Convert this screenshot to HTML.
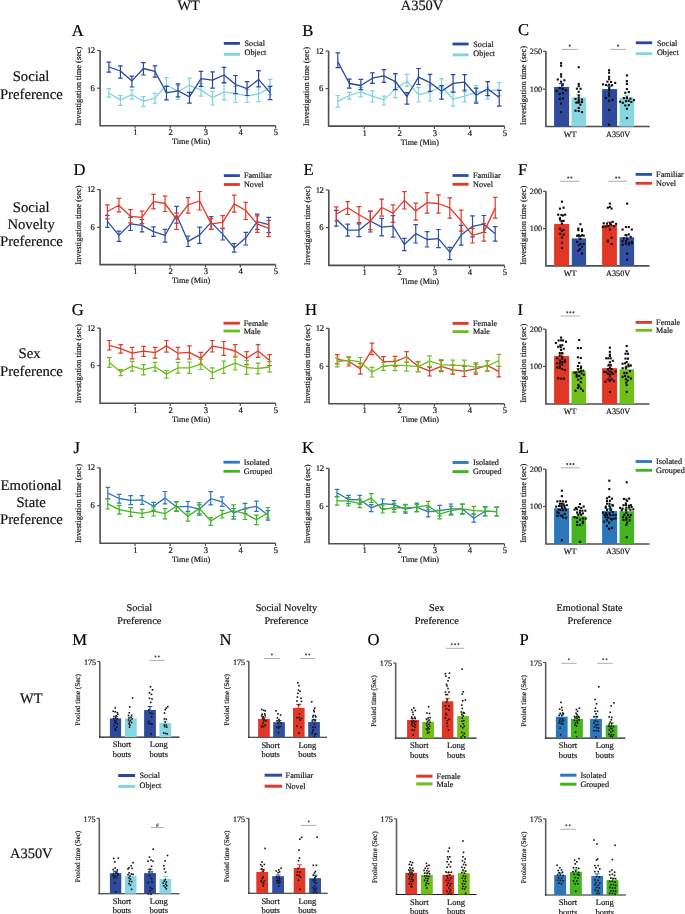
<!DOCTYPE html>
<html><head><meta charset="utf-8"><style>html,body{margin:0;padding:0;background:#fff;}body{width:685px;height:914px;overflow:hidden;}svg{display:block;will-change:transform;text-rendering:geometricPrecision;}text{stroke:currentColor;stroke-width:0.18px;}</style></head><body>
<svg width="685" height="914" viewBox="0 0 685 914" style='font-family:"Liberation Serif",serif'>
<rect width="685" height="914" fill="#fff"/>
<text x="188.6" y="10" font-size="14.4" text-anchor="middle" fill="#111" color="#111">WT</text>
<text x="422" y="10.2" font-size="14.4" text-anchor="middle" fill="#111" color="#111">A350V</text>
<text x="31" y="81.4" font-size="14.7" text-anchor="middle" fill="#111" color="#111">Social</text>
<text x="31.3" y="98.5" font-size="14.7" text-anchor="middle" fill="#111" color="#111">Preference</text>
<text x="31.2" y="211.6" font-size="14.7" text-anchor="middle" fill="#111" color="#111">Social</text>
<text x="31.1" y="229" font-size="14.7" text-anchor="middle" fill="#111" color="#111">Novelty</text>
<text x="31.4" y="246.4" font-size="14.7" text-anchor="middle" fill="#111" color="#111">Preference</text>
<text x="29.6" y="358.3" font-size="14.7" text-anchor="middle" fill="#111" color="#111">Sex</text>
<text x="31.4" y="375.5" font-size="14.7" text-anchor="middle" fill="#111" color="#111">Preference</text>
<text x="31.1" y="489.5" font-size="14.7" text-anchor="middle" fill="#111" color="#111">Emotional</text>
<text x="31.1" y="506.6" font-size="14.7" text-anchor="middle" fill="#111" color="#111">State</text>
<text x="31.4" y="524" font-size="14.7" text-anchor="middle" fill="#111" color="#111">Preference</text>
<path d="M100.1 50.5 V125.8 H275.6" fill="none" stroke="#4e4e4e" stroke-width="1.6"/>
<line x1="97.1" y1="50.5" x2="100.1" y2="50.5" stroke="#4e4e4e" stroke-width="1.2"/>
<line x1="97.1" y1="88.2" x2="100.1" y2="88.2" stroke="#4e4e4e" stroke-width="1.2"/>
<line x1="135.1" y1="125.8" x2="135.1" y2="128.6" stroke="#4e4e4e" stroke-width="1.2"/>
<line x1="170.2" y1="125.8" x2="170.2" y2="128.6" stroke="#4e4e4e" stroke-width="1.2"/>
<line x1="205.5" y1="125.8" x2="205.5" y2="128.6" stroke="#4e4e4e" stroke-width="1.2"/>
<line x1="240.3" y1="125.8" x2="240.3" y2="128.6" stroke="#4e4e4e" stroke-width="1.2"/>
<line x1="275.6" y1="125.8" x2="275.6" y2="128.6" stroke="#4e4e4e" stroke-width="1.2"/>
<text x="94.7" y="53" font-size="8.7" text-anchor="end" fill="#151515" color="#151515" letter-spacing="-0.5">12</text>
<text x="94.9" y="90.7" font-size="8.7" text-anchor="end" fill="#151515" color="#151515">6</text>
<text x="135.5" y="135.3" font-size="8.6" text-anchor="middle" fill="#151515" color="#151515">1</text>
<text x="170.6" y="135.3" font-size="8.6" text-anchor="middle" fill="#151515" color="#151515">2</text>
<text x="205.9" y="135.3" font-size="8.6" text-anchor="middle" fill="#151515" color="#151515">3</text>
<text x="240.7" y="135.3" font-size="8.6" text-anchor="middle" fill="#151515" color="#151515">4</text>
<text x="276" y="135.3" font-size="8.6" text-anchor="middle" fill="#151515" color="#151515">5</text>
<text x="191.15" y="144.3" font-size="8.2" text-anchor="middle" fill="#151515" color="#151515">Time (Min)</text>
<text x="81" y="86.15" font-size="8.4" text-anchor="middle" fill="#151515" color="#151515" transform="rotate(-90 81 86.15)">Investigation time (sec)</text>
<text x="71.8" y="35.7" font-size="16.6" text-anchor="start" fill="#000" color="#000">A</text>
<path d="M108.9 93.3 L120.41 99.9 L131.93 94.7 L143.44 101.3 L154.96 98.1 L166.47 85 L177.99 91.5 L189.5 85.3 L201.01 89.9 L212.53 97.7 L224.04 91.8 L235.56 93.7 L247.07 95.8 L258.59 94 L270.1 87.4" fill="none" stroke="#80d3df" stroke-width="1.3" stroke-linejoin="round"/>
<path d="M108.9 88.6V97.2M106.6 88.6H111.2M106.6 97.2H111.2M120.41 95.5V105.4M118.11 95.5H122.71M118.11 105.4H122.71M131.93 89.9V99.1M129.63 89.9H134.23M129.63 99.1H134.23M143.44 96.6V106.4M141.14 96.6H145.74M141.14 106.4H145.74M154.96 93.3V103.1M152.66 93.3H157.26M152.66 103.1H157.26M166.47 77.7V91.8M164.17 77.7H168.77M164.17 91.8H168.77M177.99 85.5V99.5M175.69 85.5H180.29M175.69 99.5H180.29M189.5 78.2V92.3M187.2 78.2H191.8M187.2 92.3H191.8M201.01 83.5V96.2M198.71 83.5H203.31M198.71 96.2H203.31M212.53 91.4V105M210.23 91.4H214.83M210.23 105H214.83M224.04 83.5V99.9M221.74 83.5H226.34M221.74 99.9H226.34M235.56 86.4V102.5M233.26 86.4H237.86M233.26 102.5H237.86M247.07 89.6V102.5M244.77 89.6H249.37M244.77 102.5H249.37M258.59 86.4V101.6M256.29 86.4H260.89M256.29 101.6H260.89M270.1 79.4V94.7M267.8 79.4H272.4M267.8 94.7H272.4" fill="none" stroke="#80d3df" stroke-width="1.2"/>
<path d="M108.9 67 L120.41 71 L131.93 80.9 L143.44 68.5 L154.96 71.4 L166.47 92.8 L177.99 90.8 L189.5 96.9 L201.01 78.7 L212.53 80.1 L224.04 75 L235.56 84.5 L247.07 88.6 L258.59 79.4 L270.1 92.6" fill="none" stroke="#2a46a0" stroke-width="1.3" stroke-linejoin="round"/>
<path d="M108.9 62.2V72.1M106.6 62.2H111.2M106.6 72.1H111.2M120.41 65.8V78.2M118.11 65.8H122.71M118.11 78.2H122.71M131.93 76.2V87M129.63 76.2H134.23M129.63 87H134.23M143.44 62.6V75M141.14 62.6H145.74M141.14 75H145.74M154.96 65.8V77.2M152.66 65.8H157.26M152.66 77.2H157.26M166.47 86.4V99.9M164.17 86.4H168.77M164.17 99.9H168.77M177.99 83.8V96.9M175.69 83.8H180.29M175.69 96.9H180.29M189.5 92.3V103.2M187.2 92.3H191.8M187.2 103.2H191.8M201.01 71.4V86.4M198.71 71.4H203.31M198.71 86.4H203.31M212.53 71.8V88.2M210.23 71.8H214.83M210.23 88.2H214.83M224.04 67.4V82.6M221.74 67.4H226.34M221.74 82.6H226.34M235.56 75.5V93.7M233.26 75.5H237.86M233.26 93.7H237.86M247.07 81.6V95.5M244.77 81.6H249.37M244.77 95.5H249.37M258.59 70.7V87M256.29 70.7H260.89M256.29 87H260.89M270.1 86.4V99.6M267.8 86.4H272.4M267.8 99.6H272.4" fill="none" stroke="#2a46a0" stroke-width="1.2"/>
<rect x="223.8" y="42" width="16.1" height="2.8" fill="#2a46a0"/>
<rect x="223.8" y="52.9" width="16.1" height="2.8" fill="#80d3df"/>
<text x="244.5" y="46" font-size="8.2" text-anchor="start" fill="#151515" color="#151515">Social</text>
<text x="244.5" y="55.3" font-size="8.2" text-anchor="start" fill="#151515" color="#151515">Object</text>
<path d="M328.6 51 V126.1 H504.5" fill="none" stroke="#4e4e4e" stroke-width="1.6"/>
<line x1="325.6" y1="51" x2="328.6" y2="51" stroke="#4e4e4e" stroke-width="1.2"/>
<line x1="325.6" y1="88.6" x2="328.6" y2="88.6" stroke="#4e4e4e" stroke-width="1.2"/>
<line x1="364.3" y1="126.1" x2="364.3" y2="128.9" stroke="#4e4e4e" stroke-width="1.2"/>
<line x1="399.2" y1="126.1" x2="399.2" y2="128.9" stroke="#4e4e4e" stroke-width="1.2"/>
<line x1="434.4" y1="126.1" x2="434.4" y2="128.9" stroke="#4e4e4e" stroke-width="1.2"/>
<line x1="469.5" y1="126.1" x2="469.5" y2="128.9" stroke="#4e4e4e" stroke-width="1.2"/>
<line x1="504.5" y1="126.1" x2="504.5" y2="128.9" stroke="#4e4e4e" stroke-width="1.2"/>
<text x="323.2" y="53.5" font-size="8.7" text-anchor="end" fill="#151515" color="#151515" letter-spacing="-0.5">12</text>
<text x="323.4" y="91.1" font-size="8.7" text-anchor="end" fill="#151515" color="#151515">6</text>
<text x="364.7" y="135.6" font-size="8.6" text-anchor="middle" fill="#151515" color="#151515">1</text>
<text x="399.6" y="135.6" font-size="8.6" text-anchor="middle" fill="#151515" color="#151515">2</text>
<text x="434.8" y="135.6" font-size="8.6" text-anchor="middle" fill="#151515" color="#151515">3</text>
<text x="469.9" y="135.6" font-size="8.6" text-anchor="middle" fill="#151515" color="#151515">4</text>
<text x="504.9" y="135.6" font-size="8.6" text-anchor="middle" fill="#151515" color="#151515">5</text>
<text x="419.85" y="144.6" font-size="8.2" text-anchor="middle" fill="#151515" color="#151515">Time (Min)</text>
<text x="309.5" y="86.55" font-size="8.4" text-anchor="middle" fill="#151515" color="#151515" transform="rotate(-90 309.5 86.55)">Investigation time (sec)</text>
<text x="302.3" y="35.8" font-size="16.6" text-anchor="start" fill="#000" color="#000">B</text>
<path d="M337.8 101.3 L349.33 95.5 L360.86 91.8 L372.39 96.2 L383.91 99.9 L395.44 88.9 L406.97 81.2 L418.5 94.7 L430.03 92.2 L441.56 86 L453.09 99.2 L464.61 96.2 L476.14 92.2 L487.67 91 L499.2 89.6" fill="none" stroke="#80d3df" stroke-width="1.3" stroke-linejoin="round"/>
<path d="M337.8 95.5V107.2M335.5 95.5H340.1M335.5 107.2H340.1M349.33 92.3V99.1M347.03 92.3H351.63M347.03 99.1H351.63M360.86 87.4V96.9M358.56 87.4H363.16M358.56 96.9H363.16M372.39 90.8V102M370.09 90.8H374.69M370.09 102H374.69M383.91 96.2V105M381.61 96.2H386.21M381.61 105H386.21M395.44 82.3V97.7M393.14 82.3H397.74M393.14 97.7H397.74M406.97 74.3V86.4M404.67 74.3H409.27M404.67 86.4H409.27M418.5 87.4V102M416.2 87.4H420.8M416.2 102H420.8M430.03 85.2V101M427.73 85.2H432.33M427.73 101H432.33M441.56 78.7V93M439.26 78.7H443.86M439.26 93H443.86M453.09 92.2V106.2M450.79 92.2H455.39M450.79 106.2H455.39M464.61 89.6V101.8M462.31 89.6H466.91M462.31 101.8H466.91M476.14 85.7V101.5M473.84 85.7H478.44M473.84 101.5H478.44M487.67 87V99.2M485.37 87H489.97M485.37 99.2H489.97M499.2 82.6V95.7M496.9 82.6H501.5M496.9 95.7H501.5" fill="none" stroke="#80d3df" stroke-width="1.2"/>
<path d="M337.8 61.6 L349.33 83.5 L360.86 85.5 L372.39 78.2 L383.91 75.8 L395.44 81.6 L406.97 96.5 L418.5 77.2 L430.03 82.6 L441.56 91.3 L453.09 83.4 L464.61 82.2 L476.14 95.2 L487.67 88.7 L499.2 97.4" fill="none" stroke="#2a46a0" stroke-width="1.3" stroke-linejoin="round"/>
<path d="M337.8 52.8V67.7M335.5 52.8H340.1M335.5 67.7H340.1M349.33 79.1V88.2M347.03 79.1H351.63M347.03 88.2H351.63M360.86 79.4V89.6M358.56 79.4H363.16M358.56 89.6H363.16M372.39 72.8V83.4M370.09 72.8H374.69M370.09 83.4H374.69M383.91 69.6V82.3M381.61 69.6H386.21M381.61 82.3H386.21M395.44 73.6V89.6M393.14 73.6H397.74M393.14 89.6H397.74M406.97 92.6V104.2M404.67 92.6H409.27M404.67 104.2H409.27M418.5 68.5V84.5M416.2 68.5H420.8M416.2 84.5H420.8M430.03 74.3V91.3M427.73 74.3H432.33M427.73 91.3H432.33M441.56 85.7V99.2M439.26 85.7H443.86M439.26 99.2H443.86M453.09 74.7V92.2M450.79 74.7H455.39M450.79 92.2H455.39M464.61 74.7V91M462.31 74.7H466.91M462.31 91H466.91M476.14 88.2V103.2M473.84 88.2H478.44M473.84 103.2H478.44M487.67 81.7V95.7M485.37 81.7H489.97M485.37 95.7H489.97M499.2 90.4V106.2M496.9 90.4H501.5M496.9 106.2H501.5" fill="none" stroke="#2a46a0" stroke-width="1.2"/>
<rect x="452.5" y="42.6" width="16.1" height="2.8" fill="#2a46a0"/>
<rect x="452.5" y="53.5" width="16.1" height="2.8" fill="#80d3df"/>
<text x="473.3" y="46.6" font-size="8.2" text-anchor="start" fill="#151515" color="#151515">Social</text>
<text x="473.3" y="56" font-size="8.2" text-anchor="start" fill="#151515" color="#151515">Object</text>
<path d="M100.1 189.6 V264.6 H275.6" fill="none" stroke="#4e4e4e" stroke-width="1.6"/>
<line x1="97.1" y1="189.6" x2="100.1" y2="189.6" stroke="#4e4e4e" stroke-width="1.2"/>
<line x1="97.1" y1="227.3" x2="100.1" y2="227.3" stroke="#4e4e4e" stroke-width="1.2"/>
<line x1="135.1" y1="264.6" x2="135.1" y2="267.4" stroke="#4e4e4e" stroke-width="1.2"/>
<line x1="170.2" y1="264.6" x2="170.2" y2="267.4" stroke="#4e4e4e" stroke-width="1.2"/>
<line x1="205.5" y1="264.6" x2="205.5" y2="267.4" stroke="#4e4e4e" stroke-width="1.2"/>
<line x1="240.3" y1="264.6" x2="240.3" y2="267.4" stroke="#4e4e4e" stroke-width="1.2"/>
<line x1="275.6" y1="264.6" x2="275.6" y2="267.4" stroke="#4e4e4e" stroke-width="1.2"/>
<text x="94.7" y="192.1" font-size="8.7" text-anchor="end" fill="#151515" color="#151515" letter-spacing="-0.5">12</text>
<text x="94.9" y="229.8" font-size="8.7" text-anchor="end" fill="#151515" color="#151515">6</text>
<text x="135.5" y="274.1" font-size="8.6" text-anchor="middle" fill="#151515" color="#151515">1</text>
<text x="170.6" y="274.1" font-size="8.6" text-anchor="middle" fill="#151515" color="#151515">2</text>
<text x="205.9" y="274.1" font-size="8.6" text-anchor="middle" fill="#151515" color="#151515">3</text>
<text x="240.7" y="274.1" font-size="8.6" text-anchor="middle" fill="#151515" color="#151515">4</text>
<text x="276" y="274.1" font-size="8.6" text-anchor="middle" fill="#151515" color="#151515">5</text>
<text x="191.15" y="283.1" font-size="8.2" text-anchor="middle" fill="#151515" color="#151515">Time (Min)</text>
<text x="81" y="225.1" font-size="8.4" text-anchor="middle" fill="#151515" color="#151515" transform="rotate(-90 81 225.1)">Investigation time (sec)</text>
<text x="73.6" y="174.5" font-size="16.6" text-anchor="start" fill="#000" color="#000">D</text>
<path d="M107.4 221.4 L118.93 235.3 L130.46 223.9 L141.99 225.4 L153.51 231.6 L165.04 235.3 L176.57 215.1 L188.1 241.4 L199.63 234.9 L211.16 222.4 L222.69 234.1 L234.21 248 L245.74 237.8 L257.27 221.7 L268.8 224.6" fill="none" stroke="#2b4fa9" stroke-width="1.3" stroke-linejoin="round"/>
<path d="M107.4 215.4V227.3M105.1 215.4H109.7M105.1 227.3H109.7M118.93 231.2V241.4M116.63 231.2H121.23M116.63 241.4H121.23M130.46 217.3V230.5M128.16 217.3H132.76M128.16 230.5H132.76M141.99 219.5V231.9M139.69 219.5H144.29M139.69 231.9H144.29M153.51 226.8V236.3M151.21 226.8H155.81M151.21 236.3H155.81M165.04 229.3V242.2M162.74 229.3H167.34M162.74 242.2H167.34M176.57 206.4V223.2M174.27 206.4H178.87M174.27 223.2H178.87M188.1 236V246.5M185.8 236H190.4M185.8 246.5H190.4M199.63 227.1V243.3M197.33 227.1H201.93M197.33 243.3H201.93M211.16 216.6V229.3M208.86 216.6H213.46M208.86 229.3H213.46M222.69 228.3V240M220.39 228.3H224.99M220.39 240H224.99M234.21 243.6V252.1M231.91 243.6H236.51M231.91 252.1H236.51M245.74 232.4V245M243.44 232.4H248.04M243.44 245H248.04M257.27 214.1V229.3M254.97 214.1H259.57M254.97 229.3H259.57M268.8 217.3V232.7M266.5 217.3H271.1M266.5 232.7H271.1" fill="none" stroke="#2b4fa9" stroke-width="1.2"/>
<path d="M107.4 211.5 L118.93 205.2 L130.46 216.3 L141.99 217.3 L153.51 201.7 L165.04 203.5 L176.57 219.5 L188.1 204.9 L199.63 201 L211.16 223.9 L222.69 222.4 L234.21 203.9 L245.74 210.5 L257.27 223.9 L268.8 228.3" fill="none" stroke="#e23a2a" stroke-width="1.3" stroke-linejoin="round"/>
<path d="M107.4 204.9V218.8M105.1 204.9H109.7M105.1 218.8H109.7M118.93 198.4V211.9M116.63 198.4H121.23M116.63 211.9H121.23M130.46 209.7V222.9M128.16 209.7H132.76M128.16 222.9H132.76M141.99 211.2V223.6M139.69 211.2H144.29M139.69 223.6H144.29M153.51 194.4V208.9M151.21 194.4H155.81M151.21 208.9H155.81M165.04 196.2V211.5M162.74 196.2H167.34M162.74 211.5H167.34M176.57 213.2V229.3M174.27 213.2H178.87M174.27 229.3H178.87M188.1 197.6V213.2M185.8 197.6H190.4M185.8 213.2H190.4M199.63 191.5V210M197.33 191.5H201.93M197.33 210H201.93M211.16 218.5V229.3M208.86 218.5H213.46M208.86 229.3H213.46M222.69 215.6V228.7M220.39 215.6H224.99M220.39 228.7H224.99M234.21 195.1V212.2M231.91 195.1H236.51M231.91 212.2H236.51M245.74 202.4V219.5M243.44 202.4H248.04M243.44 219.5H248.04M257.27 215.9V232.4M254.97 215.9H259.57M254.97 232.4H259.57M268.8 220.5V236.6M266.5 220.5H271.1M266.5 236.6H271.1" fill="none" stroke="#e23a2a" stroke-width="1.2"/>
<rect x="223.8" y="174.2" width="16.1" height="2.8" fill="#2b4fa9"/>
<rect x="223.8" y="183.1" width="16.1" height="2.8" fill="#e23a2a"/>
<text x="243.9" y="177.9" font-size="8.2" text-anchor="start" fill="#151515" color="#151515">Familiar</text>
<text x="243.9" y="186.8" font-size="8.2" text-anchor="start" fill="#151515" color="#151515">Novel</text>
<path d="M328.8 190 V265.4 H504.5" fill="none" stroke="#4e4e4e" stroke-width="1.6"/>
<line x1="325.8" y1="190" x2="328.8" y2="190" stroke="#4e4e4e" stroke-width="1.2"/>
<line x1="325.8" y1="227.6" x2="328.8" y2="227.6" stroke="#4e4e4e" stroke-width="1.2"/>
<line x1="364.3" y1="265.4" x2="364.3" y2="268.2" stroke="#4e4e4e" stroke-width="1.2"/>
<line x1="399.2" y1="265.4" x2="399.2" y2="268.2" stroke="#4e4e4e" stroke-width="1.2"/>
<line x1="434.4" y1="265.4" x2="434.4" y2="268.2" stroke="#4e4e4e" stroke-width="1.2"/>
<line x1="469.5" y1="265.4" x2="469.5" y2="268.2" stroke="#4e4e4e" stroke-width="1.2"/>
<line x1="504.5" y1="265.4" x2="504.5" y2="268.2" stroke="#4e4e4e" stroke-width="1.2"/>
<text x="323.4" y="192.5" font-size="8.7" text-anchor="end" fill="#151515" color="#151515" letter-spacing="-0.5">12</text>
<text x="323.6" y="230.1" font-size="8.7" text-anchor="end" fill="#151515" color="#151515">6</text>
<text x="364.7" y="274.9" font-size="8.6" text-anchor="middle" fill="#151515" color="#151515">1</text>
<text x="399.6" y="274.9" font-size="8.6" text-anchor="middle" fill="#151515" color="#151515">2</text>
<text x="434.8" y="274.9" font-size="8.6" text-anchor="middle" fill="#151515" color="#151515">3</text>
<text x="469.9" y="274.9" font-size="8.6" text-anchor="middle" fill="#151515" color="#151515">4</text>
<text x="504.9" y="274.9" font-size="8.6" text-anchor="middle" fill="#151515" color="#151515">5</text>
<text x="419.95" y="283.9" font-size="8.2" text-anchor="middle" fill="#151515" color="#151515">Time (Min)</text>
<text x="309.7" y="225.7" font-size="8.4" text-anchor="middle" fill="#151515" color="#151515" transform="rotate(-90 309.7 225.7)">Investigation time (sec)</text>
<text x="303.4" y="174.5" font-size="16.6" text-anchor="start" fill="#000" color="#000">E</text>
<path d="M336.3 219.2 L347.65 230.2 L359 230.2 L370.35 221 L381.7 227.1 L393.05 226.2 L404.4 244.5 L415.75 233.7 L427.1 239.5 L438.45 238.6 L449.8 252.2 L461.15 235.1 L472.5 226.3 L483.85 224.2 L495.2 233.7" fill="none" stroke="#2b4fa9" stroke-width="1.3" stroke-linejoin="round"/>
<path d="M336.3 210.4V226.2M334 210.4H338.6M334 226.2H338.6M347.65 224.1V236.2M345.35 224.1H349.95M345.35 236.2H349.95M359 223.9V236.7M356.7 223.9H361.3M356.7 236.7H361.3M370.35 211V232M368.05 211H372.65M368.05 232H372.65M381.7 218.3V235.8M379.4 218.3H384M379.4 235.8H384M393.05 215.7V237.2M390.75 215.7H395.35M390.75 237.2H395.35M404.4 238.3V250.6M402.1 238.3H406.7M402.1 250.6H406.7M415.75 224.6V243M413.45 224.6H418.05M413.45 243H418.05M427.1 231.6V247M424.8 231.6H429.4M424.8 247H429.4M438.45 229.5V247.7M436.15 229.5H440.75M436.15 247.7H440.75M449.8 247.3V259.6M447.5 247.3H452.1M447.5 259.6H452.1M461.15 225.4V245.2M458.85 225.4H463.45M458.85 245.2H463.45M472.5 215.8V236.8M470.2 215.8H474.8M470.2 236.8H474.8M483.85 215.5V232.5M481.55 215.5H486.15M481.55 232.5H486.15M495.2 226.7V241.2M492.9 226.7H497.5M492.9 241.2H497.5" fill="none" stroke="#2b4fa9" stroke-width="1.2"/>
<path d="M336.3 214 L347.65 207.8 L359 214.8 L370.35 221 L381.7 207.5 L393.05 213.1 L404.4 200.4 L415.75 210.9 L427.1 202.7 L438.45 203.5 L449.8 207.9 L461.15 220.7 L472.5 235.4 L483.85 232.1 L495.2 207.9" fill="none" stroke="#e23a2a" stroke-width="1.3" stroke-linejoin="round"/>
<path d="M336.3 206.9V221M334 206.9H338.6M334 221H338.6M347.65 201.7V214.5M345.35 201.7H349.95M345.35 214.5H349.95M359 206.6V222.7M356.7 206.6H361.3M356.7 222.7H361.3M370.35 211.3V229.7M368.05 211.3H372.65M368.05 229.7H372.65M381.7 199.1V216.2M379.4 199.1H384M379.4 216.2H384M393.05 204.8V222.4M390.75 204.8H395.35M390.75 222.4H395.35M404.4 191.6V209M402.1 191.6H406.7M402.1 209H406.7M415.75 203.2V220.2M413.45 203.2H418.05M413.45 220.2H418.05M427.1 192.7V213.2M424.8 192.7H429.4M424.8 213.2H429.4M438.45 194.8V213.2M436.15 194.8H440.75M436.15 213.2H440.75M449.8 197.8V218.1M447.5 197.8H452.1M447.5 218.1H452.1M461.15 210.2V231.2M458.85 210.2H463.45M458.85 231.2H463.45M472.5 228.4V243M470.2 228.4H474.8M470.2 243H474.8M483.85 223.7V241.2M481.55 223.7H486.15M481.55 241.2H486.15M495.2 197.4V218.1M492.9 197.4H497.5M492.9 218.1H497.5" fill="none" stroke="#e23a2a" stroke-width="1.2"/>
<rect x="452.5" y="174.1" width="16.1" height="2.8" fill="#2b4fa9"/>
<rect x="452.5" y="182.9" width="16.1" height="2.8" fill="#e23a2a"/>
<text x="473" y="178.1" font-size="8.2" text-anchor="start" fill="#151515" color="#151515">Familiar</text>
<text x="473" y="186.9" font-size="8.2" text-anchor="start" fill="#151515" color="#151515">Novel</text>
<path d="M100.1 328.1 V403.3 H275.6" fill="none" stroke="#4e4e4e" stroke-width="1.6"/>
<line x1="97.1" y1="328.1" x2="100.1" y2="328.1" stroke="#4e4e4e" stroke-width="1.2"/>
<line x1="97.1" y1="365.7" x2="100.1" y2="365.7" stroke="#4e4e4e" stroke-width="1.2"/>
<line x1="135.1" y1="403.3" x2="135.1" y2="406.1" stroke="#4e4e4e" stroke-width="1.2"/>
<line x1="170.2" y1="403.3" x2="170.2" y2="406.1" stroke="#4e4e4e" stroke-width="1.2"/>
<line x1="205.5" y1="403.3" x2="205.5" y2="406.1" stroke="#4e4e4e" stroke-width="1.2"/>
<line x1="240.3" y1="403.3" x2="240.3" y2="406.1" stroke="#4e4e4e" stroke-width="1.2"/>
<line x1="275.6" y1="403.3" x2="275.6" y2="406.1" stroke="#4e4e4e" stroke-width="1.2"/>
<text x="94.7" y="330.6" font-size="8.7" text-anchor="end" fill="#151515" color="#151515" letter-spacing="-0.5">12</text>
<text x="94.9" y="368.2" font-size="8.7" text-anchor="end" fill="#151515" color="#151515">6</text>
<text x="135.5" y="412.8" font-size="8.6" text-anchor="middle" fill="#151515" color="#151515">1</text>
<text x="170.6" y="412.8" font-size="8.6" text-anchor="middle" fill="#151515" color="#151515">2</text>
<text x="205.9" y="412.8" font-size="8.6" text-anchor="middle" fill="#151515" color="#151515">3</text>
<text x="240.7" y="412.8" font-size="8.6" text-anchor="middle" fill="#151515" color="#151515">4</text>
<text x="276" y="412.8" font-size="8.6" text-anchor="middle" fill="#151515" color="#151515">5</text>
<text x="191.15" y="421.8" font-size="8.2" text-anchor="middle" fill="#151515" color="#151515">Time (Min)</text>
<text x="81" y="363.7" font-size="8.4" text-anchor="middle" fill="#151515" color="#151515" transform="rotate(-90 81 363.7)">Investigation time (sec)</text>
<text x="71.8" y="314.5" font-size="16.6" text-anchor="start" fill="#000" color="#000">G</text>
<path d="M109.3 345.4 L120.74 348.6 L132.19 353.2 L143.63 351.2 L155.07 352.7 L166.51 345.9 L177.96 353.2 L189.4 352.3 L200.84 358.3 L212.29 346.2 L223.73 348.1 L235.17 351 L246.61 358.3 L258.06 351 L269.5 360.2" fill="none" stroke="#e23a2a" stroke-width="1.3" stroke-linejoin="round"/>
<path d="M109.3 340.5V350M107 340.5H111.6M107 350H111.6M120.74 344.6V353.2M118.44 344.6H123.04M118.44 353.2H123.04M132.19 347.4V358.8M129.89 347.4H134.49M129.89 358.8H134.49M143.63 346.4V356.3M141.33 346.4H145.93M141.33 356.3H145.93M155.07 347.4V358.1M152.77 347.4H157.37M152.77 358.1H157.37M166.51 340.5V352.2M164.21 340.5H168.81M164.21 352.2H168.81M177.96 347.4V359.1M175.66 347.4H180.26M175.66 359.1H180.26M189.4 345.8V359M187.1 345.8H191.7M187.1 359H191.7M200.84 352.4V364.1M198.54 352.4H203.14M198.54 364.1H203.14M212.29 340.5V352M209.99 340.5H214.59M209.99 352H214.59M223.73 341.5V355.4M221.43 341.5H226.03M221.43 355.4H226.03M235.17 344.7V356.8M232.87 344.7H237.47M232.87 356.8H237.47M246.61 351.7V364.6M244.31 351.7H248.91M244.31 364.6H248.91M258.06 344.7V357.3M255.76 344.7H260.36M255.76 357.3H260.36M269.5 354.6V365.6M267.2 354.6H271.8M267.2 365.6H271.8" fill="none" stroke="#e23a2a" stroke-width="1.2"/>
<path d="M109.3 362.4 L120.74 371.9 L132.19 366.1 L143.63 369.7 L155.07 366.8 L166.51 374.1 L177.96 367.8 L189.4 367.8 L200.84 364.1 L212.29 372.9 L223.73 367.8 L235.17 363.1 L246.61 367.5 L258.06 368.5 L269.5 367" fill="none" stroke="#6dbe1e" stroke-width="1.3" stroke-linejoin="round"/>
<path d="M109.3 357.6V367.3M107 357.6H111.6M107 367.3H111.6M120.74 369.7V375.6M118.44 369.7H123.04M118.44 375.6H123.04M132.19 361.4V371.2M129.89 361.4H134.49M129.89 371.2H134.49M143.63 364.6V374.9M141.33 364.6H145.93M141.33 374.9H145.93M155.07 362.4V371.2M152.77 362.4H157.37M152.77 371.2H157.37M166.51 370.5V378.1M164.21 370.5H168.81M164.21 378.1H168.81M177.96 362.4V373.1M175.66 362.4H180.26M175.66 373.1H180.26M189.4 362V373.4M187.1 362H191.7M187.1 373.4H191.7M200.84 359.3V369.5M198.54 359.3H203.14M198.54 369.5H203.14M212.29 367.8V378.7M209.99 367.8H214.59M209.99 378.7H214.59M223.73 361.2V373.3M221.43 361.2H226.03M221.43 373.3H226.03M235.17 356.4V370M232.87 356.4H237.47M232.87 370H237.47M246.61 360.5V374.3M244.31 360.5H248.91M244.31 374.3H248.91M258.06 363.1V373.9M255.76 363.1H260.36M255.76 373.9H260.36M269.5 361.6V372.2M267.2 361.6H271.8M267.2 372.2H271.8" fill="none" stroke="#6dbe1e" stroke-width="1.2"/>
<rect x="223.5" y="321.8" width="16.4" height="2.8" fill="#e23a2a"/>
<rect x="223.5" y="329.6" width="16.4" height="2.8" fill="#6dbe1e"/>
<text x="243.8" y="325.6" font-size="8.2" text-anchor="start" fill="#151515" color="#151515">Female</text>
<text x="243.8" y="333.6" font-size="8.2" text-anchor="start" fill="#151515" color="#151515">Male</text>
<path d="M328.9 328.3 V403.8 H504.5" fill="none" stroke="#4e4e4e" stroke-width="1.6"/>
<line x1="325.9" y1="328.3" x2="328.9" y2="328.3" stroke="#4e4e4e" stroke-width="1.2"/>
<line x1="325.9" y1="366.3" x2="328.9" y2="366.3" stroke="#4e4e4e" stroke-width="1.2"/>
<line x1="364.3" y1="403.8" x2="364.3" y2="406.6" stroke="#4e4e4e" stroke-width="1.2"/>
<line x1="399.2" y1="403.8" x2="399.2" y2="406.6" stroke="#4e4e4e" stroke-width="1.2"/>
<line x1="434.4" y1="403.8" x2="434.4" y2="406.6" stroke="#4e4e4e" stroke-width="1.2"/>
<line x1="469.5" y1="403.8" x2="469.5" y2="406.6" stroke="#4e4e4e" stroke-width="1.2"/>
<line x1="504.5" y1="403.8" x2="504.5" y2="406.6" stroke="#4e4e4e" stroke-width="1.2"/>
<text x="323.5" y="330.8" font-size="8.7" text-anchor="end" fill="#151515" color="#151515" letter-spacing="-0.5">12</text>
<text x="323.7" y="368.8" font-size="8.7" text-anchor="end" fill="#151515" color="#151515">6</text>
<text x="364.7" y="413.3" font-size="8.6" text-anchor="middle" fill="#151515" color="#151515">1</text>
<text x="399.6" y="413.3" font-size="8.6" text-anchor="middle" fill="#151515" color="#151515">2</text>
<text x="434.8" y="413.3" font-size="8.6" text-anchor="middle" fill="#151515" color="#151515">3</text>
<text x="469.9" y="413.3" font-size="8.6" text-anchor="middle" fill="#151515" color="#151515">4</text>
<text x="504.9" y="413.3" font-size="8.6" text-anchor="middle" fill="#151515" color="#151515">5</text>
<text x="420" y="422.3" font-size="8.2" text-anchor="middle" fill="#151515" color="#151515">Time (Min)</text>
<text x="309.8" y="364.05" font-size="8.4" text-anchor="middle" fill="#151515" color="#151515" transform="rotate(-90 309.8 364.05)">Investigation time (sec)</text>
<text x="304.9" y="314.8" font-size="16.6" text-anchor="start" fill="#000" color="#000">H</text>
<path d="M337.3 359.5 L348.84 361.2 L360.39 368.9 L371.93 349.7 L383.47 361.6 L395.01 361.6 L406.56 357 L418.1 366.3 L429.64 371.2 L441.19 366.3 L452.73 369.8 L464.27 371.2 L475.81 368.9 L487.36 365.4 L498.9 371.6" fill="none" stroke="#e23a2a" stroke-width="1.3" stroke-linejoin="round"/>
<path d="M337.3 354.6V363.9M335 354.6H339.6M335 363.9H339.6M348.84 357.2V366M346.54 357.2H351.14M346.54 366H351.14M360.39 363.7V374.2M358.09 363.7H362.69M358.09 374.2H362.69M371.93 343.2V354.6M369.63 343.2H374.23M369.63 354.6H374.23M383.47 356.7V366.5M381.17 356.7H385.77M381.17 366.5H385.77M395.01 356.3V366.5M392.71 356.3H397.31M392.71 366.5H397.31M406.56 351.7V362.2M404.26 351.7H408.86M404.26 362.2H408.86M418.1 361.9V371.6M415.8 361.9H420.4M415.8 371.6H420.4M429.64 367.2V376M427.34 367.2H431.94M427.34 376H431.94M441.19 360.7V371.6M438.89 360.7H443.49M438.89 371.6H443.49M452.73 364.9V374.2M450.43 364.9H455.03M450.43 374.2H455.03M464.27 366.3V376.5M461.97 366.3H466.57M461.97 376.5H466.57M475.81 364.2V374.2M473.51 364.2H478.11M473.51 374.2H478.11M487.36 360.7V371.2M485.06 360.7H489.66M485.06 371.2H489.66M498.9 366.3V376.8M496.6 366.3H501.2M496.6 376.8H501.2" fill="none" stroke="#e23a2a" stroke-width="1.2"/>
<path d="M337.3 361.9 L348.84 360.2 L360.39 361.9 L371.93 372.1 L383.47 366 L395.01 365.1 L406.56 365.7 L418.1 366.7 L429.64 361.1 L441.19 364.6 L452.73 365.4 L464.27 365.4 L475.81 367.2 L487.36 366 L498.9 360.7" fill="none" stroke="#6dbe1e" stroke-width="1.3" stroke-linejoin="round"/>
<path d="M337.3 358.1V366.8M335 358.1H339.6M335 366.8H339.6M348.84 356.8V363.9M346.54 356.8H351.14M346.54 363.9H351.14M360.39 357.5V366.5M358.09 357.5H362.69M358.09 366.5H362.69M371.93 367.4V377M369.63 367.4H374.23M369.63 377H374.23M383.47 362.5V370.3M381.17 362.5H385.77M381.17 370.3H385.77M395.01 360.2V370.7M392.71 360.2H397.31M392.71 370.7H397.31M406.56 357.2V371.2M404.26 357.2H408.86M404.26 371.2H408.86M418.1 361.4V371.6M415.8 361.4H420.4M415.8 371.6H420.4M429.64 355.8V366.3M427.34 355.8H431.94M427.34 366.3H431.94M441.19 359.7V370.7M438.89 359.7H443.49M438.89 370.7H443.49M452.73 360.2V370.7M450.43 360.2H455.03M450.43 370.7H455.03M464.27 360.2V371.2M461.97 360.2H466.57M461.97 371.2H466.57M475.81 362.5V372.4M473.51 362.5H478.11M473.51 372.4H478.11M487.36 360.7V371.2M485.06 360.7H489.66M485.06 371.2H489.66M498.9 354.4V366.3M496.6 354.4H501.2M496.6 366.3H501.2" fill="none" stroke="#6dbe1e" stroke-width="1.2"/>
<rect x="452.5" y="322" width="16.1" height="2.8" fill="#e23a2a"/>
<rect x="452.5" y="330.2" width="16.1" height="2.8" fill="#6dbe1e"/>
<text x="473" y="326" font-size="8.2" text-anchor="start" fill="#151515" color="#151515">Female</text>
<text x="473" y="334" font-size="8.2" text-anchor="start" fill="#151515" color="#151515">Male</text>
<path d="M100.1 467.8 V543.3 H275.6" fill="none" stroke="#4e4e4e" stroke-width="1.6"/>
<line x1="97.1" y1="467.8" x2="100.1" y2="467.8" stroke="#4e4e4e" stroke-width="1.2"/>
<line x1="97.1" y1="505.7" x2="100.1" y2="505.7" stroke="#4e4e4e" stroke-width="1.2"/>
<line x1="135.1" y1="543.3" x2="135.1" y2="546.1" stroke="#4e4e4e" stroke-width="1.2"/>
<line x1="170.2" y1="543.3" x2="170.2" y2="546.1" stroke="#4e4e4e" stroke-width="1.2"/>
<line x1="205.5" y1="543.3" x2="205.5" y2="546.1" stroke="#4e4e4e" stroke-width="1.2"/>
<line x1="240.3" y1="543.3" x2="240.3" y2="546.1" stroke="#4e4e4e" stroke-width="1.2"/>
<line x1="275.6" y1="543.3" x2="275.6" y2="546.1" stroke="#4e4e4e" stroke-width="1.2"/>
<text x="94.7" y="470.3" font-size="8.7" text-anchor="end" fill="#151515" color="#151515" letter-spacing="-0.5">12</text>
<text x="94.9" y="508.2" font-size="8.7" text-anchor="end" fill="#151515" color="#151515">6</text>
<text x="135.5" y="552.8" font-size="8.6" text-anchor="middle" fill="#151515" color="#151515">1</text>
<text x="170.6" y="552.8" font-size="8.6" text-anchor="middle" fill="#151515" color="#151515">2</text>
<text x="205.9" y="552.8" font-size="8.6" text-anchor="middle" fill="#151515" color="#151515">3</text>
<text x="240.7" y="552.8" font-size="8.6" text-anchor="middle" fill="#151515" color="#151515">4</text>
<text x="276" y="552.8" font-size="8.6" text-anchor="middle" fill="#151515" color="#151515">5</text>
<text x="191.15" y="561.8" font-size="8.2" text-anchor="middle" fill="#151515" color="#151515">Time (Min)</text>
<text x="81" y="503.55" font-size="8.4" text-anchor="middle" fill="#151515" color="#151515" transform="rotate(-90 81 503.55)">Investigation time (sec)</text>
<text x="73.6" y="453" font-size="16.6" text-anchor="start" fill="#000" color="#000">J</text>
<path d="M107.8 493.2 L119.24 498.5 L130.67 500.3 L142.11 500 L153.54 506.1 L164.98 498.1 L176.41 506.8 L187.85 506.4 L199.29 509.2 L210.72 498.7 L222.16 501.9 L233.59 512.9 L245.03 508.5 L256.46 506.3 L267.9 515.1" fill="none" stroke="#2e76be" stroke-width="1.3" stroke-linejoin="round"/>
<path d="M107.8 487.4V498.8M105.5 487.4H110.1M105.5 498.8H110.1M119.24 494.4V503.2M116.94 494.4H121.54M116.94 503.2H121.54M130.67 495.6V504.6M128.37 495.6H132.97M128.37 504.6H132.97M142.11 495.6V504.3M139.81 495.6H144.41M139.81 504.3H144.41M153.54 502.4V510.2M151.24 502.4H155.84M151.24 510.2H155.84M164.98 491.5V503.9M162.68 491.5H167.28M162.68 503.9H167.28M176.41 502V511.2M174.11 502H178.71M174.11 511.2H178.71M187.85 501.5V511.3M185.55 501.5H190.15M185.55 511.3H190.15M199.29 504.9V515.1M196.99 504.9H201.59M196.99 515.1H201.59M210.72 491.7V504.9M208.42 491.7H213.02M208.42 504.9H213.02M222.16 496.8V506.3M219.86 496.8H224.46M219.86 506.3H224.46M233.59 508.5V519.2M231.29 508.5H235.89M231.29 519.2H235.89M245.03 503.4V513.6M242.73 503.4H247.33M242.73 513.6H247.33M256.46 501.2V511.4M254.16 501.2H258.76M254.16 511.4H258.76M267.9 510.7V520.2M265.6 510.7H270.2M265.6 520.2H270.2" fill="none" stroke="#2e76be" stroke-width="1.2"/>
<path d="M107.8 503.9 L119.24 509.7 L130.67 511.9 L142.11 513.4 L153.54 511.2 L164.98 513.7 L176.41 506.1 L187.85 516.4 L199.29 508.5 L210.72 520.9 L222.16 514.3 L233.59 510.7 L245.03 513.6 L256.46 519.7 L267.9 512.9" fill="none" stroke="#3fb51f" stroke-width="1.3" stroke-linejoin="round"/>
<path d="M107.8 498.5V509M105.5 498.5H110.1M105.5 509H110.1M119.24 505.4V514.1M116.94 505.4H121.54M116.94 514.1H121.54M130.67 507.6V516.3M128.37 507.6H132.97M128.37 516.3H132.97M142.11 509.3V517.5M139.81 509.3H144.41M139.81 517.5H144.41M153.54 506.8V516M151.24 506.8H155.84M151.24 516H155.84M164.98 508.7V518.9M162.68 508.7H167.28M162.68 518.9H167.28M176.41 501.7V511.2M174.11 501.7H178.71M174.11 511.2H178.71M187.85 513V521.2M185.55 513H190.15M185.55 521.2H190.15M199.29 502.7V513.6M196.99 502.7H201.59M196.99 513.6H201.59M210.72 517.7V525.3M208.42 517.7H213.02M208.42 525.3H213.02M222.16 510.4V518M219.86 510.4H224.46M219.86 518H224.46M233.59 504.9V516.5M231.29 504.9H235.89M231.29 516.5H235.89M245.03 509.2V519.5M242.73 509.2H247.33M242.73 519.5H247.33M256.46 515.1V524.6M254.16 515.1H258.76M254.16 524.6H258.76M267.9 507.5V518M265.6 507.5H270.2M265.6 518H270.2" fill="none" stroke="#3fb51f" stroke-width="1.2"/>
<rect x="223.5" y="460.8" width="16.4" height="2.8" fill="#2e76be"/>
<rect x="223.5" y="469.9" width="16.4" height="2.8" fill="#3fb51f"/>
<text x="243.8" y="464.6" font-size="8.2" text-anchor="start" fill="#151515" color="#151515">Isolated</text>
<text x="243.8" y="473.6" font-size="8.2" text-anchor="start" fill="#151515" color="#151515">Grouped</text>
<path d="M328.9 468.3 V543.8 H504.5" fill="none" stroke="#4e4e4e" stroke-width="1.6"/>
<line x1="325.9" y1="468.3" x2="328.9" y2="468.3" stroke="#4e4e4e" stroke-width="1.2"/>
<line x1="325.9" y1="506.3" x2="328.9" y2="506.3" stroke="#4e4e4e" stroke-width="1.2"/>
<line x1="364.3" y1="543.8" x2="364.3" y2="546.6" stroke="#4e4e4e" stroke-width="1.2"/>
<line x1="399.2" y1="543.8" x2="399.2" y2="546.6" stroke="#4e4e4e" stroke-width="1.2"/>
<line x1="434.4" y1="543.8" x2="434.4" y2="546.6" stroke="#4e4e4e" stroke-width="1.2"/>
<line x1="469.5" y1="543.8" x2="469.5" y2="546.6" stroke="#4e4e4e" stroke-width="1.2"/>
<line x1="504.5" y1="543.8" x2="504.5" y2="546.6" stroke="#4e4e4e" stroke-width="1.2"/>
<text x="323.5" y="470.8" font-size="8.7" text-anchor="end" fill="#151515" color="#151515" letter-spacing="-0.5">12</text>
<text x="323.7" y="508.8" font-size="8.7" text-anchor="end" fill="#151515" color="#151515">6</text>
<text x="364.7" y="553.3" font-size="8.6" text-anchor="middle" fill="#151515" color="#151515">1</text>
<text x="399.6" y="553.3" font-size="8.6" text-anchor="middle" fill="#151515" color="#151515">2</text>
<text x="434.8" y="553.3" font-size="8.6" text-anchor="middle" fill="#151515" color="#151515">3</text>
<text x="469.9" y="553.3" font-size="8.6" text-anchor="middle" fill="#151515" color="#151515">4</text>
<text x="504.9" y="553.3" font-size="8.6" text-anchor="middle" fill="#151515" color="#151515">5</text>
<text x="420" y="562.3" font-size="8.2" text-anchor="middle" fill="#151515" color="#151515">Time (Min)</text>
<text x="309.8" y="504.05" font-size="8.4" text-anchor="middle" fill="#151515" color="#151515" transform="rotate(-90 309.8 504.05)">Investigation time (sec)</text>
<text x="301.9" y="453.4" font-size="16.6" text-anchor="start" fill="#000" color="#000">K</text>
<path d="M337 492.8 L348.4 499.5 L359.8 499.8 L371.2 507.7 L382.6 503.7 L394 504.7 L405.4 509.2 L416.8 507.2 L428.2 511.9 L439.6 510.7 L451 508.9 L462.4 508.9 L473.8 518.2 L485.2 511.2 L496.6 511.6" fill="none" stroke="#2e76be" stroke-width="1.3" stroke-linejoin="round"/>
<path d="M337 489.3V496.7M334.7 489.3H339.3M334.7 496.7H339.3M348.4 495.4V503.7M346.1 495.4H350.7M346.1 503.7H350.7M359.8 495.4V504.2M357.5 495.4H362.1M357.5 504.2H362.1M371.2 504.7V511.7M368.9 504.7H373.5M368.9 511.7H373.5M382.6 499V508.6M380.3 499H384.9M380.3 508.6H384.9M394 500.7V509.5M391.7 500.7H396.3M391.7 509.5H396.3M405.4 505V513.1M403.1 505H407.7M403.1 513.1H407.7M416.8 503.2V511.6M414.5 503.2H419.1M414.5 511.6H419.1M428.2 507.2V516.8M425.9 507.2H430.5M425.9 516.8H430.5M439.6 505.4V516M437.3 505.4H441.9M437.3 516H441.9M451 504V514.2M448.7 504H453.3M448.7 514.2H453.3M462.4 504.2V513.7M460.1 504.2H464.7M460.1 513.7H464.7M473.8 514.2V522.1M471.5 514.2H476.1M471.5 522.1H476.1M485.2 506.7V516M482.9 506.7H487.5M482.9 516H487.5M496.6 507.2V516M494.3 507.2H498.9M494.3 516H498.9" fill="none" stroke="#2e76be" stroke-width="1.2"/>
<path d="M337 500.7 L348.4 501.2 L359.8 503.3 L371.2 498.1 L382.6 509.5 L394 507.7 L405.4 507.9 L416.8 507.2 L428.2 505.4 L439.6 514.2 L451 510.7 L462.4 508.9 L473.8 510.7 L485.2 511.2 L496.6 511.6" fill="none" stroke="#3fb51f" stroke-width="1.3" stroke-linejoin="round"/>
<path d="M337 496.7V505.1M334.7 496.7H339.3M334.7 505.1H339.3M348.4 497.7V506M346.1 497.7H350.7M346.1 506H350.7M359.8 499V507.7M357.5 499H362.1M357.5 507.7H362.1M371.2 493.7V502.5M368.9 493.7H373.5M368.9 502.5H373.5M382.6 505.1V513M380.3 505.1H384.9M380.3 513H384.9M394 503.3V512.1M391.7 503.3H396.3M391.7 512.1H396.3M405.4 504.4V511.8M403.1 504.4H407.7M403.1 511.8H407.7M416.8 504.6V511.6M414.5 504.6H419.1M414.5 511.6H419.1M428.2 501.4V509.8M425.9 501.4H430.5M425.9 509.8H430.5M439.6 510.2V518.9M437.3 510.2H441.9M437.3 518.9H441.9M451 506.3V515.1M448.7 506.3H453.3M448.7 515.1H453.3M462.4 504.2V514.2M460.1 504.2H464.7M460.1 514.2H464.7M473.8 506.3V514.2M471.5 506.3H476.1M471.5 514.2H476.1M485.2 507.2V516M482.9 507.2H487.5M482.9 516H487.5M496.6 507.2V516M494.3 507.2H498.9M494.3 516H498.9" fill="none" stroke="#3fb51f" stroke-width="1.2"/>
<rect x="452.5" y="461.1" width="16.1" height="2.8" fill="#2e76be"/>
<rect x="452.5" y="470.2" width="16.1" height="2.8" fill="#3fb51f"/>
<text x="473" y="465.1" font-size="8.2" text-anchor="start" fill="#151515" color="#151515">Isolated</text>
<text x="473" y="474.4" font-size="8.2" text-anchor="start" fill="#151515" color="#151515">Grouped</text>
<path d="M545.9 51.3 V126.5 H649.8" fill="none" stroke="#4e4e4e" stroke-width="1.6"/>
<line x1="542.9" y1="51.3" x2="545.9" y2="51.3" stroke="#4e4e4e" stroke-width="1.2"/>
<line x1="542.9" y1="89.2" x2="545.9" y2="89.2" stroke="#4e4e4e" stroke-width="1.2"/>
<text x="542.1" y="54.1" font-size="8.2" text-anchor="end" fill="#151515" color="#151515">250</text>
<text x="542.1" y="92" font-size="8.2" text-anchor="end" fill="#151515" color="#151515">100</text>
<text x="525.8" y="85.6" font-size="8.4" text-anchor="middle" fill="#151515" color="#151515" transform="rotate(-90 525.8 85.6)">Investigation time (sec)</text>
<text x="518.1" y="35.2" font-size="16.6" text-anchor="start" fill="#000" color="#000">C</text>
<rect x="554.1" y="86.9" width="15" height="39.6" fill="#2e4a9c"/>
<path d="M561.6 88.9V83.7M559 83.7H564.2" stroke="#2e4a9c" stroke-width="1.2" fill="none"/>
<rect x="571.5" y="97.5" width="14.6" height="29" fill="#86d7e2"/>
<path d="M578.8 99.5V94.8M576.2 94.8H581.4" stroke="#86d7e2" stroke-width="1.2" fill="none"/>
<rect x="602.1" y="89.1" width="15" height="37.4" fill="#2e4a9c"/>
<path d="M609.6 91.1V86.2M607 86.2H612.2" stroke="#2e4a9c" stroke-width="1.2" fill="none"/>
<rect x="619.5" y="97.7" width="14.6" height="28.8" fill="#86d7e2"/>
<path d="M626.8 99.7V95.4M624.2 95.4H629.4" stroke="#86d7e2" stroke-width="1.2" fill="none"/>
<rect x="560.05" y="62.15" width="2.1" height="2.1" fill="#0a0a0a"/>
<rect x="560.05" y="64.65" width="2.1" height="2.1" fill="#0a0a0a"/>
<rect x="560.05" y="73.25" width="2.1" height="2.1" fill="#0a0a0a"/>
<rect x="560.05" y="75.45" width="2.1" height="2.1" fill="#0a0a0a"/>
<rect x="556.75" y="78.45" width="2.1" height="2.1" fill="#0a0a0a"/>
<rect x="563.35" y="79.25" width="2.1" height="2.1" fill="#0a0a0a"/>
<rect x="560.05" y="80.65" width="2.1" height="2.1" fill="#0a0a0a"/>
<rect x="561.65" y="84.15" width="2.1" height="2.1" fill="#0a0a0a"/>
<rect x="558.65" y="86.85" width="2.1" height="2.1" fill="#0a0a0a"/>
<rect x="561.65" y="87.75" width="2.1" height="2.1" fill="#0a0a0a"/>
<rect x="555.55" y="89.95" width="2.1" height="2.1" fill="#0a0a0a"/>
<rect x="564.75" y="89.15" width="2.1" height="2.1" fill="#0a0a0a"/>
<rect x="558.65" y="92.95" width="2.1" height="2.1" fill="#0a0a0a"/>
<rect x="561.95" y="92.15" width="2.1" height="2.1" fill="#0a0a0a"/>
<rect x="558.65" y="97.85" width="2.1" height="2.1" fill="#0a0a0a"/>
<rect x="561.95" y="97.35" width="2.1" height="2.1" fill="#0a0a0a"/>
<rect x="560.05" y="102.45" width="2.1" height="2.1" fill="#0a0a0a"/>
<rect x="560.05" y="111.05" width="2.1" height="2.1" fill="#0a0a0a"/>
<rect x="577.65" y="66.15" width="2.1" height="2.1" fill="#0a0a0a"/>
<rect x="577.65" y="82.85" width="2.1" height="2.1" fill="#0a0a0a"/>
<rect x="577.65" y="85.15" width="2.1" height="2.1" fill="#0a0a0a"/>
<rect x="575.85" y="87.65" width="2.1" height="2.1" fill="#0a0a0a"/>
<rect x="579.55" y="87.75" width="2.1" height="2.1" fill="#0a0a0a"/>
<rect x="577.65" y="90.75" width="2.1" height="2.1" fill="#0a0a0a"/>
<rect x="577.65" y="94.35" width="2.1" height="2.1" fill="#0a0a0a"/>
<rect x="577.65" y="96.65" width="2.1" height="2.1" fill="#0a0a0a"/>
<rect x="574.45" y="97.85" width="2.1" height="2.1" fill="#0a0a0a"/>
<rect x="580.95" y="98.55" width="2.1" height="2.1" fill="#0a0a0a"/>
<rect x="577.65" y="98.95" width="2.1" height="2.1" fill="#0a0a0a"/>
<rect x="575.25" y="101.55" width="2.1" height="2.1" fill="#0a0a0a"/>
<rect x="576.85" y="101.45" width="2.1" height="2.1" fill="#0a0a0a"/>
<rect x="578.15" y="101.15" width="2.1" height="2.1" fill="#0a0a0a"/>
<rect x="580.95" y="100.95" width="2.1" height="2.1" fill="#0a0a0a"/>
<rect x="579.35" y="103.65" width="2.1" height="2.1" fill="#0a0a0a"/>
<rect x="577.65" y="106.95" width="2.1" height="2.1" fill="#0a0a0a"/>
<rect x="574.45" y="109.65" width="2.1" height="2.1" fill="#0a0a0a"/>
<rect x="577.65" y="109.95" width="2.1" height="2.1" fill="#0a0a0a"/>
<rect x="580.95" y="111.05" width="2.1" height="2.1" fill="#0a0a0a"/>
<rect x="608.05" y="69.15" width="2.1" height="2.1" fill="#0a0a0a"/>
<rect x="608.05" y="71.65" width="2.1" height="2.1" fill="#0a0a0a"/>
<rect x="608.05" y="75.75" width="2.1" height="2.1" fill="#0a0a0a"/>
<rect x="608.05" y="78.15" width="2.1" height="2.1" fill="#0a0a0a"/>
<rect x="606.35" y="80.65" width="2.1" height="2.1" fill="#0a0a0a"/>
<rect x="609.95" y="80.85" width="2.1" height="2.1" fill="#0a0a0a"/>
<rect x="614.15" y="81.85" width="2.1" height="2.1" fill="#0a0a0a"/>
<rect x="602.05" y="83.35" width="2.1" height="2.1" fill="#0a0a0a"/>
<rect x="605.15" y="83.95" width="2.1" height="2.1" fill="#0a0a0a"/>
<rect x="608.05" y="83.65" width="2.1" height="2.1" fill="#0a0a0a"/>
<rect x="611.05" y="84.15" width="2.1" height="2.1" fill="#0a0a0a"/>
<rect x="608.05" y="86.85" width="2.1" height="2.1" fill="#0a0a0a"/>
<rect x="608.05" y="89.15" width="2.1" height="2.1" fill="#0a0a0a"/>
<rect x="608.05" y="92.35" width="2.1" height="2.1" fill="#0a0a0a"/>
<rect x="608.05" y="94.65" width="2.1" height="2.1" fill="#0a0a0a"/>
<rect x="604.75" y="96.85" width="2.1" height="2.1" fill="#0a0a0a"/>
<rect x="608.05" y="99.75" width="2.1" height="2.1" fill="#0a0a0a"/>
<rect x="611.55" y="98.75" width="2.1" height="2.1" fill="#0a0a0a"/>
<rect x="608.05" y="108.95" width="2.1" height="2.1" fill="#0a0a0a"/>
<rect x="608.05" y="123.65" width="2.1" height="2.1" fill="#0a0a0a"/>
<rect x="625.85" y="74.35" width="2.1" height="2.1" fill="#0a0a0a"/>
<rect x="625.85" y="80.05" width="2.1" height="2.1" fill="#0a0a0a"/>
<rect x="625.85" y="82.85" width="2.1" height="2.1" fill="#0a0a0a"/>
<rect x="625.85" y="88.05" width="2.1" height="2.1" fill="#0a0a0a"/>
<rect x="624.25" y="91.75" width="2.1" height="2.1" fill="#0a0a0a"/>
<rect x="627.75" y="91.05" width="2.1" height="2.1" fill="#0a0a0a"/>
<rect x="625.85" y="96.25" width="2.1" height="2.1" fill="#0a0a0a"/>
<rect x="625.85" y="97.05" width="2.1" height="2.1" fill="#0a0a0a"/>
<rect x="622.85" y="97.05" width="2.1" height="2.1" fill="#0a0a0a"/>
<rect x="629.35" y="97.65" width="2.1" height="2.1" fill="#0a0a0a"/>
<rect x="619.15" y="100.65" width="2.1" height="2.1" fill="#0a0a0a"/>
<rect x="621.75" y="101.75" width="2.1" height="2.1" fill="#0a0a0a"/>
<rect x="624.85" y="100.15" width="2.1" height="2.1" fill="#0a0a0a"/>
<rect x="627.55" y="99.75" width="2.1" height="2.1" fill="#0a0a0a"/>
<rect x="630.25" y="100.95" width="2.1" height="2.1" fill="#0a0a0a"/>
<rect x="632.95" y="99.15" width="2.1" height="2.1" fill="#0a0a0a"/>
<rect x="624.25" y="104.45" width="2.1" height="2.1" fill="#0a0a0a"/>
<rect x="627.75" y="104.05" width="2.1" height="2.1" fill="#0a0a0a"/>
<rect x="625.85" y="107.75" width="2.1" height="2.1" fill="#0a0a0a"/>
<rect x="625.85" y="117.05" width="2.1" height="2.1" fill="#0a0a0a"/>
<line x1="561.8" y1="49.4" x2="577.7" y2="49.4" stroke="#b4b4b4" stroke-width="1.1"/>
<circle cx="569.75" cy="45.7" r="1.1" fill="#4a4a4a"/>
<line x1="610.1" y1="49.4" x2="626" y2="49.4" stroke="#b4b4b4" stroke-width="1.1"/>
<circle cx="618.05" cy="45.7" r="1.1" fill="#4a4a4a"/>
<text x="570.1" y="136.8" font-size="8.2" text-anchor="middle" fill="#151515" color="#151515">WT</text>
<text x="618.1" y="136.8" font-size="8.2" text-anchor="middle" fill="#151515" color="#151515">A350V</text>
<rect x="635.8" y="41.4" width="16.4" height="2.8" fill="#2a46a0"/>
<rect x="635.8" y="52.3" width="16.4" height="2.8" fill="#80d3df"/>
<text x="656.9" y="45.6" font-size="8.2" text-anchor="start" fill="#151515" color="#151515">Social</text>
<text x="656.9" y="55.1" font-size="8.2" text-anchor="start" fill="#151515" color="#151515">Object</text>
<path d="M545.9 191.3 V265.9 H649.5" fill="none" stroke="#4e4e4e" stroke-width="1.6"/>
<line x1="542.9" y1="191.3" x2="545.9" y2="191.3" stroke="#4e4e4e" stroke-width="1.2"/>
<line x1="542.9" y1="228.6" x2="545.9" y2="228.6" stroke="#4e4e4e" stroke-width="1.2"/>
<text x="542.1" y="194.1" font-size="8.2" text-anchor="end" fill="#151515" color="#151515">200</text>
<text x="542.1" y="231.4" font-size="8.2" text-anchor="end" fill="#151515" color="#151515">100</text>
<text x="525.8" y="225.3" font-size="8.4" text-anchor="middle" fill="#151515" color="#151515" transform="rotate(-90 525.8 225.3)">Investigation time (sec)</text>
<text x="518.1" y="174.7" font-size="16.6" text-anchor="start" fill="#000" color="#000">F</text>
<rect x="554.1" y="223.9" width="15" height="42" fill="#e13726"/>
<path d="M561.6 225.9V220.9M559 220.9H564.2" stroke="#e13726" stroke-width="1.2" fill="none"/>
<rect x="571.8" y="238.4" width="14.3" height="27.5" fill="#3150a4"/>
<path d="M578.95 240.4V236.1M576.35 236.1H581.55" stroke="#3150a4" stroke-width="1.2" fill="none"/>
<rect x="602.1" y="225" width="14.8" height="40.9" fill="#e13726"/>
<path d="M609.5 227V222.1M606.9 222.1H612.1" stroke="#e13726" stroke-width="1.2" fill="none"/>
<rect x="619.5" y="237.3" width="14.6" height="28.6" fill="#3150a4"/>
<path d="M626.8 239.3V234.8M624.2 234.8H629.4" stroke="#3150a4" stroke-width="1.2" fill="none"/>
<rect x="560.85" y="200.65" width="2.1" height="2.1" fill="#0a0a0a"/>
<rect x="558.95" y="207.55" width="2.1" height="2.1" fill="#0a0a0a"/>
<rect x="562.55" y="206.65" width="2.1" height="2.1" fill="#0a0a0a"/>
<rect x="557.15" y="213.65" width="2.1" height="2.1" fill="#0a0a0a"/>
<rect x="560.45" y="214.05" width="2.1" height="2.1" fill="#0a0a0a"/>
<rect x="562.05" y="214.45" width="2.1" height="2.1" fill="#0a0a0a"/>
<rect x="564.15" y="213.65" width="2.1" height="2.1" fill="#0a0a0a"/>
<rect x="558.95" y="217.15" width="2.1" height="2.1" fill="#0a0a0a"/>
<rect x="558.95" y="218.15" width="2.1" height="2.1" fill="#0a0a0a"/>
<rect x="560.45" y="220.05" width="2.1" height="2.1" fill="#0a0a0a"/>
<rect x="562.55" y="219.85" width="2.1" height="2.1" fill="#0a0a0a"/>
<rect x="560.85" y="222.55" width="2.1" height="2.1" fill="#0a0a0a"/>
<rect x="558.95" y="227.75" width="2.1" height="2.1" fill="#0a0a0a"/>
<rect x="560.85" y="229.95" width="2.1" height="2.1" fill="#0a0a0a"/>
<rect x="562.55" y="228.85" width="2.1" height="2.1" fill="#0a0a0a"/>
<rect x="558.95" y="232.75" width="2.1" height="2.1" fill="#0a0a0a"/>
<rect x="562.55" y="233.55" width="2.1" height="2.1" fill="#0a0a0a"/>
<rect x="560.85" y="236.45" width="2.1" height="2.1" fill="#0a0a0a"/>
<rect x="560.85" y="241.75" width="2.1" height="2.1" fill="#0a0a0a"/>
<rect x="560.85" y="246.95" width="2.1" height="2.1" fill="#0a0a0a"/>
<rect x="579.35" y="223.15" width="2.1" height="2.1" fill="#0a0a0a"/>
<rect x="577.25" y="227.45" width="2.1" height="2.1" fill="#0a0a0a"/>
<rect x="577.25" y="229.15" width="2.1" height="2.1" fill="#0a0a0a"/>
<rect x="580.95" y="228.25" width="2.1" height="2.1" fill="#0a0a0a"/>
<rect x="580.95" y="230.05" width="2.1" height="2.1" fill="#0a0a0a"/>
<rect x="576.05" y="234.65" width="2.1" height="2.1" fill="#0a0a0a"/>
<rect x="577.65" y="234.15" width="2.1" height="2.1" fill="#0a0a0a"/>
<rect x="579.35" y="235.05" width="2.1" height="2.1" fill="#0a0a0a"/>
<rect x="580.95" y="234.15" width="2.1" height="2.1" fill="#0a0a0a"/>
<rect x="582.65" y="234.65" width="2.1" height="2.1" fill="#0a0a0a"/>
<rect x="579.35" y="237.85" width="2.1" height="2.1" fill="#0a0a0a"/>
<rect x="576.05" y="240.75" width="2.1" height="2.1" fill="#0a0a0a"/>
<rect x="579.35" y="242.85" width="2.1" height="2.1" fill="#0a0a0a"/>
<rect x="582.65" y="242.85" width="2.1" height="2.1" fill="#0a0a0a"/>
<rect x="577.65" y="244.25" width="2.1" height="2.1" fill="#0a0a0a"/>
<rect x="580.95" y="245.65" width="2.1" height="2.1" fill="#0a0a0a"/>
<rect x="578.95" y="248.15" width="2.1" height="2.1" fill="#0a0a0a"/>
<rect x="577.25" y="249.65" width="2.1" height="2.1" fill="#0a0a0a"/>
<rect x="580.95" y="252.45" width="2.1" height="2.1" fill="#0a0a0a"/>
<rect x="608.85" y="202.55" width="2.1" height="2.1" fill="#0a0a0a"/>
<rect x="606.85" y="206.65" width="2.1" height="2.1" fill="#0a0a0a"/>
<rect x="608.85" y="205.85" width="2.1" height="2.1" fill="#0a0a0a"/>
<rect x="610.55" y="207.55" width="2.1" height="2.1" fill="#0a0a0a"/>
<rect x="611.75" y="220.85" width="2.1" height="2.1" fill="#0a0a0a"/>
<rect x="602.65" y="222.25" width="2.1" height="2.1" fill="#0a0a0a"/>
<rect x="605.85" y="222.65" width="2.1" height="2.1" fill="#0a0a0a"/>
<rect x="609.15" y="222.25" width="2.1" height="2.1" fill="#0a0a0a"/>
<rect x="610.05" y="223.55" width="2.1" height="2.1" fill="#0a0a0a"/>
<rect x="615.05" y="222.85" width="2.1" height="2.1" fill="#0a0a0a"/>
<rect x="601.75" y="225.95" width="2.1" height="2.1" fill="#0a0a0a"/>
<rect x="604.55" y="225.55" width="2.1" height="2.1" fill="#0a0a0a"/>
<rect x="607.25" y="224.95" width="2.1" height="2.1" fill="#0a0a0a"/>
<rect x="612.95" y="224.95" width="2.1" height="2.1" fill="#0a0a0a"/>
<rect x="608.85" y="228.45" width="2.1" height="2.1" fill="#0a0a0a"/>
<rect x="610.55" y="236.65" width="2.1" height="2.1" fill="#0a0a0a"/>
<rect x="606.85" y="239.55" width="2.1" height="2.1" fill="#0a0a0a"/>
<rect x="606.85" y="240.35" width="2.1" height="2.1" fill="#0a0a0a"/>
<rect x="610.55" y="243.05" width="2.1" height="2.1" fill="#0a0a0a"/>
<rect x="626.15" y="202.55" width="2.1" height="2.1" fill="#0a0a0a"/>
<rect x="624.85" y="225.95" width="2.1" height="2.1" fill="#0a0a0a"/>
<rect x="627.75" y="225.95" width="2.1" height="2.1" fill="#0a0a0a"/>
<rect x="621.55" y="228.45" width="2.1" height="2.1" fill="#0a0a0a"/>
<rect x="630.75" y="228.45" width="2.1" height="2.1" fill="#0a0a0a"/>
<rect x="627.75" y="233.25" width="2.1" height="2.1" fill="#0a0a0a"/>
<rect x="624.85" y="234.15" width="2.1" height="2.1" fill="#0a0a0a"/>
<rect x="629.65" y="235.85" width="2.1" height="2.1" fill="#0a0a0a"/>
<rect x="622.85" y="237.35" width="2.1" height="2.1" fill="#0a0a0a"/>
<rect x="626.15" y="238.15" width="2.1" height="2.1" fill="#0a0a0a"/>
<rect x="621.55" y="240.15" width="2.1" height="2.1" fill="#0a0a0a"/>
<rect x="624.85" y="240.15" width="2.1" height="2.1" fill="#0a0a0a"/>
<rect x="627.75" y="241.75" width="2.1" height="2.1" fill="#0a0a0a"/>
<rect x="630.75" y="240.95" width="2.1" height="2.1" fill="#0a0a0a"/>
<rect x="630.75" y="242.25" width="2.1" height="2.1" fill="#0a0a0a"/>
<rect x="621.55" y="243.65" width="2.1" height="2.1" fill="#0a0a0a"/>
<rect x="624.85" y="242.55" width="2.1" height="2.1" fill="#0a0a0a"/>
<rect x="627.75" y="243.35" width="2.1" height="2.1" fill="#0a0a0a"/>
<rect x="626.15" y="252.65" width="2.1" height="2.1" fill="#0a0a0a"/>
<rect x="626.15" y="258.65" width="2.1" height="2.1" fill="#0a0a0a"/>
<line x1="560.2" y1="181.3" x2="579.4" y2="181.3" stroke="#b4b4b4" stroke-width="1.1"/>
<circle cx="568.25" cy="177.6" r="1.1" fill="#4a4a4a"/>
<circle cx="571.35" cy="177.6" r="1.1" fill="#4a4a4a"/>
<line x1="608.3" y1="181.3" x2="627.2" y2="181.3" stroke="#b4b4b4" stroke-width="1.1"/>
<circle cx="616.2" cy="177.6" r="1.1" fill="#4a4a4a"/>
<circle cx="619.3" cy="177.6" r="1.1" fill="#4a4a4a"/>
<text x="570.1" y="276.2" font-size="8.2" text-anchor="middle" fill="#151515" color="#151515">WT</text>
<text x="618.1" y="276.2" font-size="8.2" text-anchor="middle" fill="#151515" color="#151515">A350V</text>
<rect x="635.6" y="173" width="16.5" height="2.8" fill="#2b4fa9"/>
<rect x="635.6" y="181.9" width="16.5" height="2.8" fill="#e23a2a"/>
<text x="656.1" y="176.8" font-size="8.2" text-anchor="start" fill="#151515" color="#151515">Familiar</text>
<text x="656.1" y="185.7" font-size="8.2" text-anchor="start" fill="#151515" color="#151515">Novel</text>
<path d="M545.9 329.2 V404 H649.5" fill="none" stroke="#4e4e4e" stroke-width="1.6"/>
<line x1="542.9" y1="329.2" x2="545.9" y2="329.2" stroke="#4e4e4e" stroke-width="1.2"/>
<line x1="542.9" y1="366.5" x2="545.9" y2="366.5" stroke="#4e4e4e" stroke-width="1.2"/>
<text x="542.1" y="332" font-size="8.2" text-anchor="end" fill="#151515" color="#151515">200</text>
<text x="542.1" y="369.3" font-size="8.2" text-anchor="end" fill="#151515" color="#151515">100</text>
<text x="525.8" y="363.3" font-size="8.4" text-anchor="middle" fill="#151515" color="#151515" transform="rotate(-90 525.8 363.3)">Investigation time (sec)</text>
<text x="517.6" y="314.7" font-size="16.6" text-anchor="start" fill="#000" color="#000">I</text>
<rect x="554.1" y="356.1" width="15" height="47.9" fill="#e13726"/>
<path d="M561.6 358.1V353.8M559 353.8H564.2" stroke="#e13726" stroke-width="1.2" fill="none"/>
<rect x="571.5" y="371.1" width="14.6" height="32.9" fill="#72bf1a"/>
<path d="M578.8 373.1V368.6M576.2 368.6H581.4" stroke="#72bf1a" stroke-width="1.2" fill="none"/>
<rect x="602.1" y="368.2" width="15" height="35.8" fill="#e13726"/>
<path d="M609.6 370.2V366.1M607 366.1H612.2" stroke="#e13726" stroke-width="1.2" fill="none"/>
<rect x="619.5" y="369.3" width="14.6" height="34.7" fill="#72bf1a"/>
<path d="M626.8 371.3V367M624.2 367H629.4" stroke="#72bf1a" stroke-width="1.2" fill="none"/>
<rect x="560.05" y="336.55" width="2.1" height="2.1" fill="#0a0a0a"/>
<rect x="557.55" y="339.45" width="2.1" height="2.1" fill="#0a0a0a"/>
<rect x="560.05" y="339.25" width="2.1" height="2.1" fill="#0a0a0a"/>
<rect x="562.05" y="339.45" width="2.1" height="2.1" fill="#0a0a0a"/>
<rect x="564.95" y="340.65" width="2.1" height="2.1" fill="#0a0a0a"/>
<rect x="554.85" y="341.95" width="2.1" height="2.1" fill="#0a0a0a"/>
<rect x="557.15" y="345.75" width="2.1" height="2.1" fill="#0a0a0a"/>
<rect x="559.25" y="344.35" width="2.1" height="2.1" fill="#0a0a0a"/>
<rect x="561.25" y="344.15" width="2.1" height="2.1" fill="#0a0a0a"/>
<rect x="559.65" y="346.15" width="2.1" height="2.1" fill="#0a0a0a"/>
<rect x="562.75" y="347.65" width="2.1" height="2.1" fill="#0a0a0a"/>
<rect x="560.05" y="348.85" width="2.1" height="2.1" fill="#0a0a0a"/>
<rect x="558.65" y="351.95" width="2.1" height="2.1" fill="#0a0a0a"/>
<rect x="561.15" y="351.95" width="2.1" height="2.1" fill="#0a0a0a"/>
<rect x="558.65" y="354.55" width="2.1" height="2.1" fill="#0a0a0a"/>
<rect x="561.15" y="355.65" width="2.1" height="2.1" fill="#0a0a0a"/>
<rect x="556.15" y="357.25" width="2.1" height="2.1" fill="#0a0a0a"/>
<rect x="561.25" y="357.65" width="2.1" height="2.1" fill="#0a0a0a"/>
<rect x="558.85" y="359.55" width="2.1" height="2.1" fill="#0a0a0a"/>
<rect x="563.85" y="359.35" width="2.1" height="2.1" fill="#0a0a0a"/>
<rect x="561.15" y="360.85" width="2.1" height="2.1" fill="#0a0a0a"/>
<rect x="556.15" y="362.25" width="2.1" height="2.1" fill="#0a0a0a"/>
<rect x="558.85" y="362.25" width="2.1" height="2.1" fill="#0a0a0a"/>
<rect x="561.25" y="363.45" width="2.1" height="2.1" fill="#0a0a0a"/>
<rect x="563.85" y="360.85" width="2.1" height="2.1" fill="#0a0a0a"/>
<rect x="558.65" y="365.05" width="2.1" height="2.1" fill="#0a0a0a"/>
<rect x="555.95" y="366.35" width="2.1" height="2.1" fill="#0a0a0a"/>
<rect x="558.65" y="366.85" width="2.1" height="2.1" fill="#0a0a0a"/>
<rect x="561.15" y="367.95" width="2.1" height="2.1" fill="#0a0a0a"/>
<rect x="563.85" y="369.05" width="2.1" height="2.1" fill="#0a0a0a"/>
<rect x="557.15" y="377.25" width="2.1" height="2.1" fill="#0a0a0a"/>
<rect x="560.05" y="377.55" width="2.1" height="2.1" fill="#0a0a0a"/>
<rect x="562.95" y="377.55" width="2.1" height="2.1" fill="#0a0a0a"/>
<rect x="578.15" y="338.95" width="2.1" height="2.1" fill="#0a0a0a"/>
<rect x="576.85" y="347.05" width="2.1" height="2.1" fill="#0a0a0a"/>
<rect x="579.75" y="347.05" width="2.1" height="2.1" fill="#0a0a0a"/>
<rect x="576.85" y="356.25" width="2.1" height="2.1" fill="#0a0a0a"/>
<rect x="579.75" y="356.85" width="2.1" height="2.1" fill="#0a0a0a"/>
<rect x="578.15" y="361.85" width="2.1" height="2.1" fill="#0a0a0a"/>
<rect x="576.85" y="364.95" width="2.1" height="2.1" fill="#0a0a0a"/>
<rect x="579.95" y="365.55" width="2.1" height="2.1" fill="#0a0a0a"/>
<rect x="579.95" y="366.85" width="2.1" height="2.1" fill="#0a0a0a"/>
<rect x="577.05" y="368.35" width="2.1" height="2.1" fill="#0a0a0a"/>
<rect x="579.95" y="369.65" width="2.1" height="2.1" fill="#0a0a0a"/>
<rect x="582.25" y="369.65" width="2.1" height="2.1" fill="#0a0a0a"/>
<rect x="573.55" y="371.65" width="2.1" height="2.1" fill="#0a0a0a"/>
<rect x="575.25" y="371.45" width="2.1" height="2.1" fill="#0a0a0a"/>
<rect x="578.15" y="370.85" width="2.1" height="2.1" fill="#0a0a0a"/>
<rect x="580.55" y="372.35" width="2.1" height="2.1" fill="#0a0a0a"/>
<rect x="582.75" y="373.75" width="2.1" height="2.1" fill="#0a0a0a"/>
<rect x="575.65" y="373.95" width="2.1" height="2.1" fill="#0a0a0a"/>
<rect x="578.15" y="374.95" width="2.1" height="2.1" fill="#0a0a0a"/>
<rect x="575.65" y="375.65" width="2.1" height="2.1" fill="#0a0a0a"/>
<rect x="580.15" y="377.25" width="2.1" height="2.1" fill="#0a0a0a"/>
<rect x="577.25" y="378.65" width="2.1" height="2.1" fill="#0a0a0a"/>
<rect x="579.75" y="381.15" width="2.1" height="2.1" fill="#0a0a0a"/>
<rect x="577.25" y="383.85" width="2.1" height="2.1" fill="#0a0a0a"/>
<rect x="578.15" y="385.45" width="2.1" height="2.1" fill="#0a0a0a"/>
<rect x="576.85" y="386.85" width="2.1" height="2.1" fill="#0a0a0a"/>
<rect x="579.95" y="387.65" width="2.1" height="2.1" fill="#0a0a0a"/>
<rect x="574.45" y="389.75" width="2.1" height="2.1" fill="#0a0a0a"/>
<rect x="581.95" y="389.75" width="2.1" height="2.1" fill="#0a0a0a"/>
<rect x="608.85" y="346.65" width="2.1" height="2.1" fill="#0a0a0a"/>
<rect x="608.85" y="350.75" width="2.1" height="2.1" fill="#0a0a0a"/>
<rect x="608.85" y="353.55" width="2.1" height="2.1" fill="#0a0a0a"/>
<rect x="608.85" y="355.05" width="2.1" height="2.1" fill="#0a0a0a"/>
<rect x="605.15" y="357.25" width="2.1" height="2.1" fill="#0a0a0a"/>
<rect x="607.25" y="357.25" width="2.1" height="2.1" fill="#0a0a0a"/>
<rect x="609.65" y="357.25" width="2.1" height="2.1" fill="#0a0a0a"/>
<rect x="611.75" y="359.75" width="2.1" height="2.1" fill="#0a0a0a"/>
<rect x="608.85" y="361.15" width="2.1" height="2.1" fill="#0a0a0a"/>
<rect x="607.65" y="363.85" width="2.1" height="2.1" fill="#0a0a0a"/>
<rect x="609.65" y="363.85" width="2.1" height="2.1" fill="#0a0a0a"/>
<rect x="608.85" y="366.75" width="2.1" height="2.1" fill="#0a0a0a"/>
<rect x="606.85" y="368.25" width="2.1" height="2.1" fill="#0a0a0a"/>
<rect x="610.55" y="367.95" width="2.1" height="2.1" fill="#0a0a0a"/>
<rect x="603.15" y="370.85" width="2.1" height="2.1" fill="#0a0a0a"/>
<rect x="605.15" y="371.05" width="2.1" height="2.1" fill="#0a0a0a"/>
<rect x="608.45" y="370.45" width="2.1" height="2.1" fill="#0a0a0a"/>
<rect x="610.55" y="371.25" width="2.1" height="2.1" fill="#0a0a0a"/>
<rect x="614.65" y="370.45" width="2.1" height="2.1" fill="#0a0a0a"/>
<rect x="606.85" y="372.85" width="2.1" height="2.1" fill="#0a0a0a"/>
<rect x="609.25" y="373.35" width="2.1" height="2.1" fill="#0a0a0a"/>
<rect x="612.15" y="372.85" width="2.1" height="2.1" fill="#0a0a0a"/>
<rect x="608.85" y="375.35" width="2.1" height="2.1" fill="#0a0a0a"/>
<rect x="607.25" y="378.25" width="2.1" height="2.1" fill="#0a0a0a"/>
<rect x="610.55" y="378.25" width="2.1" height="2.1" fill="#0a0a0a"/>
<rect x="604.35" y="380.55" width="2.1" height="2.1" fill="#0a0a0a"/>
<rect x="608.85" y="379.75" width="2.1" height="2.1" fill="#0a0a0a"/>
<rect x="612.95" y="380.25" width="2.1" height="2.1" fill="#0a0a0a"/>
<rect x="608.85" y="390.95" width="2.1" height="2.1" fill="#0a0a0a"/>
<rect x="625.65" y="344.95" width="2.1" height="2.1" fill="#0a0a0a"/>
<rect x="625.65" y="350.15" width="2.1" height="2.1" fill="#0a0a0a"/>
<rect x="624.45" y="352.75" width="2.1" height="2.1" fill="#0a0a0a"/>
<rect x="626.95" y="352.75" width="2.1" height="2.1" fill="#0a0a0a"/>
<rect x="624.45" y="357.55" width="2.1" height="2.1" fill="#0a0a0a"/>
<rect x="626.95" y="357.65" width="2.1" height="2.1" fill="#0a0a0a"/>
<rect x="625.65" y="360.95" width="2.1" height="2.1" fill="#0a0a0a"/>
<rect x="621.55" y="362.65" width="2.1" height="2.1" fill="#0a0a0a"/>
<rect x="624.05" y="362.25" width="2.1" height="2.1" fill="#0a0a0a"/>
<rect x="627.35" y="363.45" width="2.1" height="2.1" fill="#0a0a0a"/>
<rect x="629.85" y="364.45" width="2.1" height="2.1" fill="#0a0a0a"/>
<rect x="625.25" y="365.55" width="2.1" height="2.1" fill="#0a0a0a"/>
<rect x="627.75" y="365.05" width="2.1" height="2.1" fill="#0a0a0a"/>
<rect x="621.55" y="367.15" width="2.1" height="2.1" fill="#0a0a0a"/>
<rect x="624.85" y="367.15" width="2.1" height="2.1" fill="#0a0a0a"/>
<rect x="628.95" y="370.05" width="2.1" height="2.1" fill="#0a0a0a"/>
<rect x="623.25" y="372.05" width="2.1" height="2.1" fill="#0a0a0a"/>
<rect x="625.65" y="372.05" width="2.1" height="2.1" fill="#0a0a0a"/>
<rect x="621.55" y="375.75" width="2.1" height="2.1" fill="#0a0a0a"/>
<rect x="624.05" y="374.95" width="2.1" height="2.1" fill="#0a0a0a"/>
<rect x="627.35" y="375.75" width="2.1" height="2.1" fill="#0a0a0a"/>
<rect x="629.85" y="377.45" width="2.1" height="2.1" fill="#0a0a0a"/>
<rect x="624.85" y="378.25" width="2.1" height="2.1" fill="#0a0a0a"/>
<rect x="626.55" y="379.45" width="2.1" height="2.1" fill="#0a0a0a"/>
<rect x="625.25" y="381.55" width="2.1" height="2.1" fill="#0a0a0a"/>
<rect x="625.65" y="383.95" width="2.1" height="2.1" fill="#0a0a0a"/>
<rect x="625.65" y="390.75" width="2.1" height="2.1" fill="#0a0a0a"/>
<line x1="560.7" y1="316" x2="579.9" y2="316" stroke="#b4b4b4" stroke-width="1.1"/>
<circle cx="567.2" cy="312.3" r="1.1" fill="#4a4a4a"/>
<circle cx="570.3" cy="312.3" r="1.1" fill="#4a4a4a"/>
<circle cx="573.4" cy="312.3" r="1.1" fill="#4a4a4a"/>
<text x="570.1" y="414.3" font-size="8.2" text-anchor="middle" fill="#151515" color="#151515">WT</text>
<text x="618.1" y="414.3" font-size="8.2" text-anchor="middle" fill="#151515" color="#151515">A350V</text>
<rect x="635.6" y="321" width="16.5" height="2.8" fill="#e23a2a"/>
<rect x="635.6" y="328.9" width="16.5" height="2.8" fill="#6dbe1e"/>
<text x="656.1" y="324.9" font-size="8.2" text-anchor="start" fill="#151515" color="#151515">Female</text>
<text x="656.1" y="332.8" font-size="8.2" text-anchor="start" fill="#151515" color="#151515">Male</text>
<path d="M545.9 469.2 V544 H649.5" fill="none" stroke="#4e4e4e" stroke-width="1.6"/>
<line x1="542.9" y1="469.2" x2="545.9" y2="469.2" stroke="#4e4e4e" stroke-width="1.2"/>
<line x1="542.9" y1="506.5" x2="545.9" y2="506.5" stroke="#4e4e4e" stroke-width="1.2"/>
<text x="542.1" y="472" font-size="8.2" text-anchor="end" fill="#151515" color="#151515">200</text>
<text x="542.1" y="509.3" font-size="8.2" text-anchor="end" fill="#151515" color="#151515">100</text>
<text x="525.8" y="503.3" font-size="8.4" text-anchor="middle" fill="#151515" color="#151515" transform="rotate(-90 525.8 503.3)">Investigation time (sec)</text>
<text x="518.7" y="453.4" font-size="16.6" text-anchor="start" fill="#000" color="#000">L</text>
<rect x="554.1" y="508.2" width="15" height="35.8" fill="#2b77b9"/>
<path d="M561.6 510.2V505.8M559 505.8H564.2" stroke="#2b77b9" stroke-width="1.2" fill="none"/>
<rect x="571.5" y="516.2" width="14.6" height="27.8" fill="#43b520"/>
<path d="M578.8 518.2V514M576.2 514H581.4" stroke="#43b520" stroke-width="1.2" fill="none"/>
<rect x="602.1" y="511.1" width="15" height="32.9" fill="#2b77b9"/>
<path d="M609.6 513.1V508.8M607 508.8H612.2" stroke="#2b77b9" stroke-width="1.2" fill="none"/>
<rect x="619.5" y="511.2" width="14.6" height="32.8" fill="#43b520"/>
<path d="M626.8 513.2V509M624.2 509H629.4" stroke="#43b520" stroke-width="1.2" fill="none"/>
<rect x="560.85" y="489.65" width="2.1" height="2.1" fill="#0a0a0a"/>
<rect x="560.85" y="495.05" width="2.1" height="2.1" fill="#0a0a0a"/>
<rect x="556.35" y="500.35" width="2.1" height="2.1" fill="#0a0a0a"/>
<rect x="559.25" y="500.15" width="2.1" height="2.1" fill="#0a0a0a"/>
<rect x="562.05" y="500.35" width="2.1" height="2.1" fill="#0a0a0a"/>
<rect x="564.95" y="500.55" width="2.1" height="2.1" fill="#0a0a0a"/>
<rect x="558.85" y="502.75" width="2.1" height="2.1" fill="#0a0a0a"/>
<rect x="560.85" y="502.65" width="2.1" height="2.1" fill="#0a0a0a"/>
<rect x="562.55" y="503.25" width="2.1" height="2.1" fill="#0a0a0a"/>
<rect x="565.75" y="504.15" width="2.1" height="2.1" fill="#0a0a0a"/>
<rect x="555.15" y="505.55" width="2.1" height="2.1" fill="#0a0a0a"/>
<rect x="557.95" y="504.95" width="2.1" height="2.1" fill="#0a0a0a"/>
<rect x="560.45" y="505.05" width="2.1" height="2.1" fill="#0a0a0a"/>
<rect x="563.35" y="505.05" width="2.1" height="2.1" fill="#0a0a0a"/>
<rect x="560.85" y="506.85" width="2.1" height="2.1" fill="#0a0a0a"/>
<rect x="563.75" y="506.85" width="2.1" height="2.1" fill="#0a0a0a"/>
<rect x="557.55" y="508.55" width="2.1" height="2.1" fill="#0a0a0a"/>
<rect x="559.25" y="509.05" width="2.1" height="2.1" fill="#0a0a0a"/>
<rect x="562.05" y="509.15" width="2.1" height="2.1" fill="#0a0a0a"/>
<rect x="564.95" y="509.05" width="2.1" height="2.1" fill="#0a0a0a"/>
<rect x="556.35" y="511.05" width="2.1" height="2.1" fill="#0a0a0a"/>
<rect x="557.55" y="512.05" width="2.1" height="2.1" fill="#0a0a0a"/>
<rect x="563.75" y="512.85" width="2.1" height="2.1" fill="#0a0a0a"/>
<rect x="556.35" y="514.75" width="2.1" height="2.1" fill="#0a0a0a"/>
<rect x="559.65" y="514.55" width="2.1" height="2.1" fill="#0a0a0a"/>
<rect x="561.25" y="514.75" width="2.1" height="2.1" fill="#0a0a0a"/>
<rect x="562.05" y="516.45" width="2.1" height="2.1" fill="#0a0a0a"/>
<rect x="564.95" y="516.75" width="2.1" height="2.1" fill="#0a0a0a"/>
<rect x="560.85" y="539.15" width="2.1" height="2.1" fill="#0a0a0a"/>
<rect x="578.95" y="503.05" width="2.1" height="2.1" fill="#0a0a0a"/>
<rect x="577.65" y="505.95" width="2.1" height="2.1" fill="#0a0a0a"/>
<rect x="582.65" y="505.45" width="2.1" height="2.1" fill="#0a0a0a"/>
<rect x="574.85" y="506.95" width="2.1" height="2.1" fill="#0a0a0a"/>
<rect x="580.15" y="506.95" width="2.1" height="2.1" fill="#0a0a0a"/>
<rect x="573.55" y="508.55" width="2.1" height="2.1" fill="#0a0a0a"/>
<rect x="576.05" y="508.25" width="2.1" height="2.1" fill="#0a0a0a"/>
<rect x="578.95" y="509.65" width="2.1" height="2.1" fill="#0a0a0a"/>
<rect x="581.35" y="509.65" width="2.1" height="2.1" fill="#0a0a0a"/>
<rect x="584.25" y="509.65" width="2.1" height="2.1" fill="#0a0a0a"/>
<rect x="576.05" y="511.45" width="2.1" height="2.1" fill="#0a0a0a"/>
<rect x="578.95" y="511.65" width="2.1" height="2.1" fill="#0a0a0a"/>
<rect x="581.85" y="512.35" width="2.1" height="2.1" fill="#0a0a0a"/>
<rect x="577.25" y="513.75" width="2.1" height="2.1" fill="#0a0a0a"/>
<rect x="580.15" y="513.75" width="2.1" height="2.1" fill="#0a0a0a"/>
<rect x="573.55" y="516.15" width="2.1" height="2.1" fill="#0a0a0a"/>
<rect x="576.05" y="516.75" width="2.1" height="2.1" fill="#0a0a0a"/>
<rect x="578.95" y="518.65" width="2.1" height="2.1" fill="#0a0a0a"/>
<rect x="581.85" y="517.45" width="2.1" height="2.1" fill="#0a0a0a"/>
<rect x="584.65" y="517.55" width="2.1" height="2.1" fill="#0a0a0a"/>
<rect x="581.85" y="520.55" width="2.1" height="2.1" fill="#0a0a0a"/>
<rect x="576.05" y="520.85" width="2.1" height="2.1" fill="#0a0a0a"/>
<rect x="581.85" y="522.15" width="2.1" height="2.1" fill="#0a0a0a"/>
<rect x="576.05" y="523.85" width="2.1" height="2.1" fill="#0a0a0a"/>
<rect x="578.95" y="523.95" width="2.1" height="2.1" fill="#0a0a0a"/>
<rect x="578.95" y="540.85" width="2.1" height="2.1" fill="#0a0a0a"/>
<rect x="608.25" y="479.65" width="2.1" height="2.1" fill="#0a0a0a"/>
<rect x="608.25" y="488.05" width="2.1" height="2.1" fill="#0a0a0a"/>
<rect x="608.25" y="495.85" width="2.1" height="2.1" fill="#0a0a0a"/>
<rect x="605.95" y="497.25" width="2.1" height="2.1" fill="#0a0a0a"/>
<rect x="610.95" y="497.65" width="2.1" height="2.1" fill="#0a0a0a"/>
<rect x="605.95" y="499.95" width="2.1" height="2.1" fill="#0a0a0a"/>
<rect x="608.85" y="499.75" width="2.1" height="2.1" fill="#0a0a0a"/>
<rect x="605.95" y="502.65" width="2.1" height="2.1" fill="#0a0a0a"/>
<rect x="608.45" y="502.75" width="2.1" height="2.1" fill="#0a0a0a"/>
<rect x="611.35" y="503.85" width="2.1" height="2.1" fill="#0a0a0a"/>
<rect x="604.75" y="505.55" width="2.1" height="2.1" fill="#0a0a0a"/>
<rect x="608.45" y="505.05" width="2.1" height="2.1" fill="#0a0a0a"/>
<rect x="611.75" y="504.65" width="2.1" height="2.1" fill="#0a0a0a"/>
<rect x="604.75" y="506.85" width="2.1" height="2.1" fill="#0a0a0a"/>
<rect x="609.25" y="506.75" width="2.1" height="2.1" fill="#0a0a0a"/>
<rect x="605.95" y="509.05" width="2.1" height="2.1" fill="#0a0a0a"/>
<rect x="610.05" y="509.05" width="2.1" height="2.1" fill="#0a0a0a"/>
<rect x="601.85" y="511.65" width="2.1" height="2.1" fill="#0a0a0a"/>
<rect x="605.15" y="512.05" width="2.1" height="2.1" fill="#0a0a0a"/>
<rect x="608.45" y="512.05" width="2.1" height="2.1" fill="#0a0a0a"/>
<rect x="611.75" y="511.05" width="2.1" height="2.1" fill="#0a0a0a"/>
<rect x="603.55" y="513.95" width="2.1" height="2.1" fill="#0a0a0a"/>
<rect x="605.95" y="514.25" width="2.1" height="2.1" fill="#0a0a0a"/>
<rect x="609.25" y="513.95" width="2.1" height="2.1" fill="#0a0a0a"/>
<rect x="612.15" y="514.15" width="2.1" height="2.1" fill="#0a0a0a"/>
<rect x="614.65" y="513.95" width="2.1" height="2.1" fill="#0a0a0a"/>
<rect x="604.35" y="516.15" width="2.1" height="2.1" fill="#0a0a0a"/>
<rect x="606.85" y="516.55" width="2.1" height="2.1" fill="#0a0a0a"/>
<rect x="609.65" y="517.45" width="2.1" height="2.1" fill="#0a0a0a"/>
<rect x="612.55" y="517.85" width="2.1" height="2.1" fill="#0a0a0a"/>
<rect x="614.65" y="517.25" width="2.1" height="2.1" fill="#0a0a0a"/>
<rect x="603.15" y="520.55" width="2.1" height="2.1" fill="#0a0a0a"/>
<rect x="605.95" y="519.25" width="2.1" height="2.1" fill="#0a0a0a"/>
<rect x="608.05" y="521.55" width="2.1" height="2.1" fill="#0a0a0a"/>
<rect x="610.55" y="518.65" width="2.1" height="2.1" fill="#0a0a0a"/>
<rect x="605.95" y="524.95" width="2.1" height="2.1" fill="#0a0a0a"/>
<rect x="608.05" y="527.65" width="2.1" height="2.1" fill="#0a0a0a"/>
<rect x="610.95" y="526.85" width="2.1" height="2.1" fill="#0a0a0a"/>
<rect x="625.65" y="481.25" width="2.1" height="2.1" fill="#0a0a0a"/>
<rect x="622.85" y="497.85" width="2.1" height="2.1" fill="#0a0a0a"/>
<rect x="625.25" y="498.65" width="2.1" height="2.1" fill="#0a0a0a"/>
<rect x="628.15" y="497.55" width="2.1" height="2.1" fill="#0a0a0a"/>
<rect x="626.15" y="499.95" width="2.1" height="2.1" fill="#0a0a0a"/>
<rect x="624.85" y="502.45" width="2.1" height="2.1" fill="#0a0a0a"/>
<rect x="622.45" y="504.15" width="2.1" height="2.1" fill="#0a0a0a"/>
<rect x="624.85" y="503.85" width="2.1" height="2.1" fill="#0a0a0a"/>
<rect x="627.75" y="504.65" width="2.1" height="2.1" fill="#0a0a0a"/>
<rect x="629.85" y="504.15" width="2.1" height="2.1" fill="#0a0a0a"/>
<rect x="619.15" y="506.85" width="2.1" height="2.1" fill="#0a0a0a"/>
<rect x="621.55" y="507.55" width="2.1" height="2.1" fill="#0a0a0a"/>
<rect x="625.25" y="506.55" width="2.1" height="2.1" fill="#0a0a0a"/>
<rect x="628.15" y="506.55" width="2.1" height="2.1" fill="#0a0a0a"/>
<rect x="630.65" y="505.95" width="2.1" height="2.1" fill="#0a0a0a"/>
<rect x="632.25" y="508.35" width="2.1" height="2.1" fill="#0a0a0a"/>
<rect x="620.75" y="509.15" width="2.1" height="2.1" fill="#0a0a0a"/>
<rect x="624.85" y="509.15" width="2.1" height="2.1" fill="#0a0a0a"/>
<rect x="629.35" y="508.75" width="2.1" height="2.1" fill="#0a0a0a"/>
<rect x="625.25" y="511.65" width="2.1" height="2.1" fill="#0a0a0a"/>
<rect x="623.25" y="513.75" width="2.1" height="2.1" fill="#0a0a0a"/>
<rect x="626.95" y="513.95" width="2.1" height="2.1" fill="#0a0a0a"/>
<rect x="629.85" y="513.95" width="2.1" height="2.1" fill="#0a0a0a"/>
<rect x="621.95" y="516.15" width="2.1" height="2.1" fill="#0a0a0a"/>
<rect x="625.25" y="516.55" width="2.1" height="2.1" fill="#0a0a0a"/>
<rect x="628.55" y="516.15" width="2.1" height="2.1" fill="#0a0a0a"/>
<rect x="622.45" y="519.05" width="2.1" height="2.1" fill="#0a0a0a"/>
<rect x="625.25" y="518.65" width="2.1" height="2.1" fill="#0a0a0a"/>
<rect x="628.55" y="519.25" width="2.1" height="2.1" fill="#0a0a0a"/>
<rect x="626.15" y="521.55" width="2.1" height="2.1" fill="#0a0a0a"/>
<rect x="625.25" y="523.85" width="2.1" height="2.1" fill="#0a0a0a"/>
<rect x="625.65" y="536.15" width="2.1" height="2.1" fill="#0a0a0a"/>
<line x1="560.7" y1="467.8" x2="579.9" y2="467.8" stroke="#b4b4b4" stroke-width="1.1"/>
<circle cx="567.2" cy="464.1" r="1.1" fill="#4a4a4a"/>
<circle cx="570.3" cy="464.1" r="1.1" fill="#4a4a4a"/>
<circle cx="573.4" cy="464.1" r="1.1" fill="#4a4a4a"/>
<text x="570.1" y="554.3" font-size="8.2" text-anchor="middle" fill="#151515" color="#151515">WT</text>
<text x="618.1" y="554.3" font-size="8.2" text-anchor="middle" fill="#151515" color="#151515">A350V</text>
<rect x="635.6" y="460.1" width="16.5" height="2.8" fill="#2e76be"/>
<rect x="635.6" y="468.9" width="16.5" height="2.8" fill="#3fb51f"/>
<text x="656.1" y="464" font-size="8.2" text-anchor="start" fill="#151515" color="#151515">Isolated</text>
<text x="656.1" y="472.9" font-size="8.2" text-anchor="start" fill="#151515" color="#151515">Grouped</text>
<text x="139.3" y="611.2" font-size="10.3" text-anchor="middle" fill="#111" color="#111">Social</text>
<text x="139.3" y="623.6" font-size="10.3" text-anchor="middle" fill="#111" color="#111">Preference</text>
<text x="286.4" y="611.2" font-size="10.3" text-anchor="middle" fill="#111" color="#111">Social Novelty</text>
<text x="286.4" y="623.6" font-size="10.3" text-anchor="middle" fill="#111" color="#111">Preference</text>
<text x="436.7" y="611.2" font-size="10.3" text-anchor="middle" fill="#111" color="#111">Sex</text>
<text x="436.7" y="623.6" font-size="10.3" text-anchor="middle" fill="#111" color="#111">Preference</text>
<text x="589.6" y="611.2" font-size="10.3" text-anchor="middle" fill="#111" color="#111">Emotional State</text>
<text x="589.6" y="623.6" font-size="10.3" text-anchor="middle" fill="#111" color="#111">Preference</text>
<text x="31.3" y="703.2" font-size="14.4" text-anchor="middle" fill="#111" color="#111">WT</text>
<text x="31.3" y="858.2" font-size="14.4" text-anchor="middle" fill="#111" color="#111">A350V</text>
<line x1="99.8" y1="661.5" x2="99.8" y2="737.6" stroke="#5e5e5e" stroke-width="1.6"/>
<line x1="99" y1="737.1" x2="179.5" y2="737.1" stroke="#1a1a1a" stroke-width="1.1"/>
<line x1="97.2" y1="661.5" x2="99.8" y2="661.5" stroke="#4a4a4a" stroke-width="1.1"/>
<text x="96.2" y="664.9" font-size="8.2" text-anchor="end" fill="#151515" color="#151515">175</text>
<text x="80" y="699.8" font-size="7.2" text-anchor="middle" fill="#151515" color="#151515" transform="rotate(-90 80 699.8)">Pooled time (Sec)</text>
<text x="72.3" y="644.6" font-size="16.6" text-anchor="start" fill="#000" color="#000">M</text>
<rect x="109.9" y="718.4" width="11.2" height="18.7" fill="#2e4a9c"/>
<path d="M115.5 720.4V716.4M113.1 716.4H117.9" stroke="#2e4a9c" stroke-width="1.1" fill="none"/>
<rect x="124.9" y="718.4" width="11.8" height="18.7" fill="#86d7e2"/>
<path d="M130.8 720.4V716.8M128.4 716.8H133.2" stroke="#86d7e2" stroke-width="1.1" fill="none"/>
<rect x="144.1" y="710" width="11.8" height="27.1" fill="#2e4a9c"/>
<path d="M150 712V706.5M147.6 706.5H152.4" stroke="#2e4a9c" stroke-width="1.1" fill="none"/>
<rect x="159.5" y="723" width="11.7" height="14.1" fill="#86d7e2"/>
<path d="M165.35 725V721M162.95 721H167.75" stroke="#86d7e2" stroke-width="1.1" fill="none"/>
<rect x="114.4" y="707.1" width="1.6" height="1.6" fill="#111"/>
<rect x="112.4" y="710.5" width="1.6" height="1.6" fill="#111"/>
<rect x="114.4" y="711" width="1.6" height="1.6" fill="#111"/>
<rect x="116.5" y="711.8" width="1.6" height="1.6" fill="#111"/>
<rect x="117" y="713.5" width="1.6" height="1.6" fill="#111"/>
<rect x="115.4" y="714.9" width="1.6" height="1.6" fill="#111"/>
<rect x="112.9" y="717.6" width="1.6" height="1.6" fill="#111"/>
<rect x="114.9" y="717.1" width="1.6" height="1.6" fill="#111"/>
<rect x="116.5" y="717.9" width="1.6" height="1.6" fill="#111"/>
<rect x="113.9" y="719.7" width="1.6" height="1.6" fill="#111"/>
<rect x="115.4" y="720.7" width="1.6" height="1.6" fill="#111"/>
<rect x="114.4" y="722.2" width="1.6" height="1.6" fill="#111"/>
<rect x="116.5" y="723" width="1.6" height="1.6" fill="#111"/>
<rect x="113.4" y="724.8" width="1.6" height="1.6" fill="#111"/>
<rect x="116" y="726.3" width="1.6" height="1.6" fill="#111"/>
<rect x="114.4" y="727.8" width="1.6" height="1.6" fill="#111"/>
<rect x="114.9" y="729.4" width="1.6" height="1.6" fill="#111"/>
<rect x="131.8" y="697.2" width="1.6" height="1.6" fill="#111"/>
<rect x="128.9" y="706.1" width="1.6" height="1.6" fill="#111"/>
<rect x="128.5" y="712" width="1.6" height="1.6" fill="#111"/>
<rect x="127.7" y="714.6" width="1.6" height="1.6" fill="#111"/>
<rect x="130.8" y="714.6" width="1.6" height="1.6" fill="#111"/>
<rect x="128.2" y="717.1" width="1.6" height="1.6" fill="#111"/>
<rect x="130.3" y="716.6" width="1.6" height="1.6" fill="#111"/>
<rect x="131.3" y="718.1" width="1.6" height="1.6" fill="#111"/>
<rect x="127.7" y="719.2" width="1.6" height="1.6" fill="#111"/>
<rect x="129.7" y="719.7" width="1.6" height="1.6" fill="#111"/>
<rect x="128.7" y="721.2" width="1.6" height="1.6" fill="#111"/>
<rect x="130.8" y="721.7" width="1.6" height="1.6" fill="#111"/>
<rect x="128.2" y="723" width="1.6" height="1.6" fill="#111"/>
<rect x="129.2" y="724.3" width="1.6" height="1.6" fill="#111"/>
<rect x="128.7" y="726.3" width="1.6" height="1.6" fill="#111"/>
<rect x="149.7" y="686" width="1.6" height="1.6" fill="#111"/>
<rect x="151.7" y="689" width="1.6" height="1.6" fill="#111"/>
<rect x="148.7" y="692.1" width="1.6" height="1.6" fill="#111"/>
<rect x="150.7" y="693.6" width="1.6" height="1.6" fill="#111"/>
<rect x="148.7" y="697.5" width="1.6" height="1.6" fill="#111"/>
<rect x="151.2" y="698.2" width="1.6" height="1.6" fill="#111"/>
<rect x="150" y="701.6" width="1.6" height="1.6" fill="#111"/>
<rect x="148.1" y="708.9" width="1.6" height="1.6" fill="#111"/>
<rect x="149.2" y="712.2" width="1.6" height="1.6" fill="#111"/>
<rect x="151.2" y="712.8" width="1.6" height="1.6" fill="#111"/>
<rect x="150.7" y="716.1" width="1.6" height="1.6" fill="#111"/>
<rect x="148.1" y="720.7" width="1.6" height="1.6" fill="#111"/>
<rect x="147.6" y="722.7" width="1.6" height="1.6" fill="#111"/>
<rect x="149.7" y="723" width="1.6" height="1.6" fill="#111"/>
<rect x="151.2" y="723" width="1.6" height="1.6" fill="#111"/>
<rect x="150.2" y="733" width="1.6" height="1.6" fill="#111"/>
<rect x="167" y="705.9" width="1.6" height="1.6" fill="#111"/>
<rect x="165.5" y="707.4" width="1.6" height="1.6" fill="#111"/>
<rect x="164.5" y="708.9" width="1.6" height="1.6" fill="#111"/>
<rect x="163.7" y="712.2" width="1.6" height="1.6" fill="#111"/>
<rect x="163.5" y="718.1" width="1.6" height="1.6" fill="#111"/>
<rect x="165.5" y="718.3" width="1.6" height="1.6" fill="#111"/>
<rect x="164.5" y="721.2" width="1.6" height="1.6" fill="#111"/>
<rect x="163.5" y="724.3" width="1.6" height="1.6" fill="#111"/>
<rect x="165.5" y="724.3" width="1.6" height="1.6" fill="#111"/>
<rect x="164" y="725.8" width="1.6" height="1.6" fill="#111"/>
<rect x="166" y="726.3" width="1.6" height="1.6" fill="#111"/>
<rect x="163" y="732.2" width="1.6" height="1.6" fill="#111"/>
<rect x="165" y="732.7" width="1.6" height="1.6" fill="#111"/>
<rect x="166.5" y="733" width="1.6" height="1.6" fill="#111"/>
<line x1="149.7" y1="660.4" x2="164.6" y2="660.4" stroke="#b4b4b4" stroke-width="1.1"/>
<circle cx="155.5" cy="656.4" r="1.0" fill="#4a4a4a"/>
<circle cx="158.8" cy="656.4" r="1.0" fill="#4a4a4a"/>
<text x="121.9" y="747.4" font-size="8.5" text-anchor="middle" fill="#151515" color="#151515">Short</text>
<text x="121.9" y="756.8" font-size="8.5" text-anchor="middle" fill="#151515" color="#151515">bouts</text>
<text x="158.8" y="747.4" font-size="8.5" text-anchor="middle" fill="#151515" color="#151515">Long</text>
<text x="158.8" y="756.8" font-size="8.5" text-anchor="middle" fill="#151515" color="#151515">bouts</text>
<line x1="248.8" y1="661.2" x2="248.8" y2="737.8" stroke="#5e5e5e" stroke-width="1.6"/>
<line x1="248" y1="737.3" x2="327.1" y2="737.3" stroke="#1a1a1a" stroke-width="1.1"/>
<line x1="246.2" y1="661.2" x2="248.8" y2="661.2" stroke="#4a4a4a" stroke-width="1.1"/>
<text x="245.2" y="664.6" font-size="8.2" text-anchor="end" fill="#151515" color="#151515">175</text>
<text x="229" y="699.75" font-size="7.2" text-anchor="middle" fill="#151515" color="#151515" transform="rotate(-90 229 699.75)">Pooled time (Sec)</text>
<text x="219.4" y="644.6" font-size="16.6" text-anchor="start" fill="#000" color="#000">N</text>
<rect x="258.1" y="718.9" width="11.7" height="18.4" fill="#e13726"/>
<path d="M263.95 720.9V717.1M261.55 717.1H266.35" stroke="#e13726" stroke-width="1.1" fill="none"/>
<rect x="273.2" y="722.2" width="11.7" height="15.1" fill="#3150a4"/>
<path d="M279.05 724.2V720.5M276.65 720.5H281.45" stroke="#3150a4" stroke-width="1.1" fill="none"/>
<rect x="293" y="707.9" width="11.6" height="29.4" fill="#e13726"/>
<path d="M298.8 709.9V704.4M296.4 704.4H301.2" stroke="#e13726" stroke-width="1.1" fill="none"/>
<rect x="308.2" y="722" width="11.7" height="15.3" fill="#3150a4"/>
<path d="M314.05 724V719.5M311.65 719.5H316.45" stroke="#3150a4" stroke-width="1.1" fill="none"/>
<rect x="260.9" y="708.7" width="1.6" height="1.6" fill="#111"/>
<rect x="262.9" y="709.5" width="1.6" height="1.6" fill="#111"/>
<rect x="264.4" y="710" width="1.6" height="1.6" fill="#111"/>
<rect x="261.4" y="713.5" width="1.6" height="1.6" fill="#111"/>
<rect x="263.9" y="713" width="1.6" height="1.6" fill="#111"/>
<rect x="260.9" y="715.1" width="1.6" height="1.6" fill="#111"/>
<rect x="262.4" y="716.1" width="1.6" height="1.6" fill="#111"/>
<rect x="264.4" y="714.6" width="1.6" height="1.6" fill="#111"/>
<rect x="261.9" y="717.6" width="1.6" height="1.6" fill="#111"/>
<rect x="263.4" y="718.3" width="1.6" height="1.6" fill="#111"/>
<rect x="262.9" y="719.7" width="1.6" height="1.6" fill="#111"/>
<rect x="265" y="720" width="1.6" height="1.6" fill="#111"/>
<rect x="262.4" y="722.2" width="1.6" height="1.6" fill="#111"/>
<rect x="261.4" y="724.8" width="1.6" height="1.6" fill="#111"/>
<rect x="264.4" y="724.3" width="1.6" height="1.6" fill="#111"/>
<rect x="260.9" y="726.3" width="1.6" height="1.6" fill="#111"/>
<rect x="262.9" y="725.8" width="1.6" height="1.6" fill="#111"/>
<rect x="275.2" y="710" width="1.6" height="1.6" fill="#111"/>
<rect x="277.2" y="713" width="1.6" height="1.6" fill="#111"/>
<rect x="279.8" y="714.3" width="1.6" height="1.6" fill="#111"/>
<rect x="276.7" y="717.1" width="1.6" height="1.6" fill="#111"/>
<rect x="278.2" y="718.7" width="1.6" height="1.6" fill="#111"/>
<rect x="276.2" y="720.2" width="1.6" height="1.6" fill="#111"/>
<rect x="278.7" y="720.7" width="1.6" height="1.6" fill="#111"/>
<rect x="277.2" y="722.2" width="1.6" height="1.6" fill="#111"/>
<rect x="280.3" y="722" width="1.6" height="1.6" fill="#111"/>
<rect x="276.2" y="726.3" width="1.6" height="1.6" fill="#111"/>
<rect x="278.2" y="725.8" width="1.6" height="1.6" fill="#111"/>
<rect x="279.8" y="725.8" width="1.6" height="1.6" fill="#111"/>
<rect x="277.7" y="727.3" width="1.6" height="1.6" fill="#111"/>
<rect x="277.7" y="731.9" width="1.6" height="1.6" fill="#111"/>
<rect x="297.1" y="681.9" width="1.6" height="1.6" fill="#111"/>
<rect x="298.2" y="684.9" width="1.6" height="1.6" fill="#111"/>
<rect x="297.7" y="689.3" width="1.6" height="1.6" fill="#111"/>
<rect x="299.2" y="690.5" width="1.6" height="1.6" fill="#111"/>
<rect x="297.1" y="692.6" width="1.6" height="1.6" fill="#111"/>
<rect x="296.6" y="696.2" width="1.6" height="1.6" fill="#111"/>
<rect x="300.2" y="697.5" width="1.6" height="1.6" fill="#111"/>
<rect x="296.1" y="700.3" width="1.6" height="1.6" fill="#111"/>
<rect x="300.7" y="700.6" width="1.6" height="1.6" fill="#111"/>
<rect x="297.7" y="704.3" width="1.6" height="1.6" fill="#111"/>
<rect x="298.7" y="713" width="1.6" height="1.6" fill="#111"/>
<rect x="296.1" y="716.9" width="1.6" height="1.6" fill="#111"/>
<rect x="298.2" y="716.6" width="1.6" height="1.6" fill="#111"/>
<rect x="300.7" y="717.6" width="1.6" height="1.6" fill="#111"/>
<rect x="299.2" y="719.2" width="1.6" height="1.6" fill="#111"/>
<rect x="296.1" y="725.3" width="1.6" height="1.6" fill="#111"/>
<rect x="300.2" y="726.5" width="1.6" height="1.6" fill="#111"/>
<rect x="298.2" y="732.4" width="1.6" height="1.6" fill="#111"/>
<rect x="310.9" y="701" width="1.6" height="1.6" fill="#111"/>
<rect x="314" y="707.4" width="1.6" height="1.6" fill="#111"/>
<rect x="313" y="709.5" width="1.6" height="1.6" fill="#111"/>
<rect x="313.5" y="711" width="1.6" height="1.6" fill="#111"/>
<rect x="312.5" y="714.6" width="1.6" height="1.6" fill="#111"/>
<rect x="314.5" y="714.9" width="1.6" height="1.6" fill="#111"/>
<rect x="312" y="716.1" width="1.6" height="1.6" fill="#111"/>
<rect x="315" y="716.1" width="1.6" height="1.6" fill="#111"/>
<rect x="313" y="718.7" width="1.6" height="1.6" fill="#111"/>
<rect x="311.4" y="720.2" width="1.6" height="1.6" fill="#111"/>
<rect x="314.5" y="720" width="1.6" height="1.6" fill="#111"/>
<rect x="313.5" y="723.2" width="1.6" height="1.6" fill="#111"/>
<rect x="312" y="726.3" width="1.6" height="1.6" fill="#111"/>
<rect x="314.5" y="726.3" width="1.6" height="1.6" fill="#111"/>
<rect x="312.5" y="728.9" width="1.6" height="1.6" fill="#111"/>
<rect x="312" y="730.4" width="1.6" height="1.6" fill="#111"/>
<rect x="311.4" y="732.4" width="1.6" height="1.6" fill="#111"/>
<rect x="314" y="733" width="1.6" height="1.6" fill="#111"/>
<rect x="315" y="733.5" width="1.6" height="1.6" fill="#111"/>
<rect x="313.5" y="735.5" width="1.6" height="1.6" fill="#111"/>
<line x1="264" y1="658.5" x2="279.8" y2="658.5" stroke="#b4b4b4" stroke-width="1.1"/>
<circle cx="271.9" cy="654.5" r="1.0" fill="#4a4a4a"/>
<line x1="300" y1="658.5" x2="315.3" y2="658.5" stroke="#b4b4b4" stroke-width="1.1"/>
<circle cx="306" cy="654.5" r="1.0" fill="#4a4a4a"/>
<circle cx="309.3" cy="654.5" r="1.0" fill="#4a4a4a"/>
<text x="270.6" y="747.6" font-size="8.5" text-anchor="middle" fill="#151515" color="#151515">Short</text>
<text x="270.6" y="757" font-size="8.5" text-anchor="middle" fill="#151515" color="#151515">bouts</text>
<text x="307.4" y="747.6" font-size="8.5" text-anchor="middle" fill="#151515" color="#151515">Long</text>
<text x="307.4" y="757" font-size="8.5" text-anchor="middle" fill="#151515" color="#151515">bouts</text>
<line x1="395.7" y1="663" x2="395.7" y2="738.6" stroke="#5e5e5e" stroke-width="1.6"/>
<line x1="394.9" y1="738.1" x2="476.6" y2="738.1" stroke="#1a1a1a" stroke-width="1.1"/>
<line x1="393.1" y1="663" x2="395.7" y2="663" stroke="#4a4a4a" stroke-width="1.1"/>
<text x="392.1" y="666.4" font-size="8.2" text-anchor="end" fill="#151515" color="#151515">175</text>
<text x="375.9" y="701.05" font-size="7.2" text-anchor="middle" fill="#151515" color="#151515" transform="rotate(-90 375.9 701.05)">Pooled time (Sec)</text>
<text x="367.6" y="644.6" font-size="16.6" text-anchor="start" fill="#000" color="#000">O</text>
<rect x="407.1" y="720" width="11.8" height="18.1" fill="#e13726"/>
<path d="M413 722V718.3M410.6 718.3H415.4" stroke="#e13726" stroke-width="1.1" fill="none"/>
<rect x="422.2" y="722" width="11.8" height="16.1" fill="#72bf1a"/>
<path d="M428.1 724V720M425.7 720H430.5" stroke="#72bf1a" stroke-width="1.1" fill="none"/>
<rect x="441.9" y="701.3" width="11.5" height="36.8" fill="#e13726"/>
<path d="M447.65 703.3V698.2M445.25 698.2H450.05" stroke="#e13726" stroke-width="1.1" fill="none"/>
<rect x="457.2" y="716.1" width="11.7" height="22" fill="#72bf1a"/>
<path d="M463.05 718.1V713.5M460.65 713.5H465.45" stroke="#72bf1a" stroke-width="1.1" fill="none"/>
<rect x="413" y="707.1" width="1.6" height="1.6" fill="#111"/>
<rect x="410.9" y="709.2" width="1.6" height="1.6" fill="#111"/>
<rect x="414.5" y="709.7" width="1.6" height="1.6" fill="#111"/>
<rect x="411.9" y="711.4" width="1.6" height="1.6" fill="#111"/>
<rect x="412.4" y="713.8" width="1.6" height="1.6" fill="#111"/>
<rect x="410.9" y="716.3" width="1.6" height="1.6" fill="#111"/>
<rect x="414" y="716.5" width="1.6" height="1.6" fill="#111"/>
<rect x="411.4" y="717.8" width="1.6" height="1.6" fill="#111"/>
<rect x="414.5" y="717.8" width="1.6" height="1.6" fill="#111"/>
<rect x="410.9" y="720.4" width="1.6" height="1.6" fill="#111"/>
<rect x="413" y="720.2" width="1.6" height="1.6" fill="#111"/>
<rect x="415" y="720.9" width="1.6" height="1.6" fill="#111"/>
<rect x="411.4" y="721.9" width="1.6" height="1.6" fill="#111"/>
<rect x="413.5" y="722.4" width="1.6" height="1.6" fill="#111"/>
<rect x="410.9" y="724" width="1.6" height="1.6" fill="#111"/>
<rect x="414.5" y="724" width="1.6" height="1.6" fill="#111"/>
<rect x="412.4" y="725.5" width="1.6" height="1.6" fill="#111"/>
<rect x="414" y="726.5" width="1.6" height="1.6" fill="#111"/>
<rect x="411.4" y="729.1" width="1.6" height="1.6" fill="#111"/>
<rect x="413.5" y="729.6" width="1.6" height="1.6" fill="#111"/>
<rect x="412.4" y="734.2" width="1.6" height="1.6" fill="#111"/>
<rect x="427.8" y="705.9" width="1.6" height="1.6" fill="#111"/>
<rect x="426.2" y="712.2" width="1.6" height="1.6" fill="#111"/>
<rect x="428.8" y="712.7" width="1.6" height="1.6" fill="#111"/>
<rect x="427.3" y="717.3" width="1.6" height="1.6" fill="#111"/>
<rect x="429.3" y="716.8" width="1.6" height="1.6" fill="#111"/>
<rect x="425.7" y="718.4" width="1.6" height="1.6" fill="#111"/>
<rect x="428.3" y="719.4" width="1.6" height="1.6" fill="#111"/>
<rect x="426.7" y="720.9" width="1.6" height="1.6" fill="#111"/>
<rect x="429.3" y="721.4" width="1.6" height="1.6" fill="#111"/>
<rect x="425.7" y="723" width="1.6" height="1.6" fill="#111"/>
<rect x="428" y="723.5" width="1.6" height="1.6" fill="#111"/>
<rect x="426.2" y="725" width="1.6" height="1.6" fill="#111"/>
<rect x="428.8" y="725.5" width="1.6" height="1.6" fill="#111"/>
<rect x="427.3" y="727" width="1.6" height="1.6" fill="#111"/>
<rect x="425.7" y="728.1" width="1.6" height="1.6" fill="#111"/>
<rect x="428.3" y="728.1" width="1.6" height="1.6" fill="#111"/>
<rect x="426.7" y="729.6" width="1.6" height="1.6" fill="#111"/>
<rect x="428.3" y="731.6" width="1.6" height="1.6" fill="#111"/>
<rect x="426.7" y="732.2" width="1.6" height="1.6" fill="#111"/>
<rect x="444.6" y="672.9" width="1.6" height="1.6" fill="#111"/>
<rect x="448.7" y="672.4" width="1.6" height="1.6" fill="#111"/>
<rect x="445.1" y="675.4" width="1.6" height="1.6" fill="#111"/>
<rect x="448.2" y="677" width="1.6" height="1.6" fill="#111"/>
<rect x="447.2" y="680" width="1.6" height="1.6" fill="#111"/>
<rect x="445.7" y="683.6" width="1.6" height="1.6" fill="#111"/>
<rect x="446.2" y="685.1" width="1.6" height="1.6" fill="#111"/>
<rect x="447.2" y="687.7" width="1.6" height="1.6" fill="#111"/>
<rect x="444.6" y="691.3" width="1.6" height="1.6" fill="#111"/>
<rect x="448.2" y="691.3" width="1.6" height="1.6" fill="#111"/>
<rect x="445.1" y="693.8" width="1.6" height="1.6" fill="#111"/>
<rect x="446.7" y="693.8" width="1.6" height="1.6" fill="#111"/>
<rect x="446.2" y="698.9" width="1.6" height="1.6" fill="#111"/>
<rect x="445.7" y="701" width="1.6" height="1.6" fill="#111"/>
<rect x="444.6" y="705.1" width="1.6" height="1.6" fill="#111"/>
<rect x="448.2" y="705.1" width="1.6" height="1.6" fill="#111"/>
<rect x="445.7" y="708.1" width="1.6" height="1.6" fill="#111"/>
<rect x="448.2" y="709.2" width="1.6" height="1.6" fill="#111"/>
<rect x="445.1" y="712.7" width="1.6" height="1.6" fill="#111"/>
<rect x="445.7" y="714.3" width="1.6" height="1.6" fill="#111"/>
<rect x="444.6" y="717.3" width="1.6" height="1.6" fill="#111"/>
<rect x="448.2" y="718.4" width="1.6" height="1.6" fill="#111"/>
<rect x="446.7" y="719.9" width="1.6" height="1.6" fill="#111"/>
<rect x="446.2" y="722.4" width="1.6" height="1.6" fill="#111"/>
<rect x="446.7" y="725.5" width="1.6" height="1.6" fill="#111"/>
<rect x="447.7" y="729.1" width="1.6" height="1.6" fill="#111"/>
<rect x="461.3" y="668.3" width="1.6" height="1.6" fill="#111"/>
<rect x="462.5" y="691" width="1.6" height="1.6" fill="#111"/>
<rect x="461.5" y="693.3" width="1.6" height="1.6" fill="#111"/>
<rect x="464.6" y="699.2" width="1.6" height="1.6" fill="#111"/>
<rect x="462" y="700" width="1.6" height="1.6" fill="#111"/>
<rect x="461" y="704.3" width="1.6" height="1.6" fill="#111"/>
<rect x="461.5" y="707.6" width="1.6" height="1.6" fill="#111"/>
<rect x="460.5" y="711.2" width="1.6" height="1.6" fill="#111"/>
<rect x="462.5" y="711.7" width="1.6" height="1.6" fill="#111"/>
<rect x="463.5" y="712.2" width="1.6" height="1.6" fill="#111"/>
<rect x="461" y="713.8" width="1.6" height="1.6" fill="#111"/>
<rect x="462.5" y="715.1" width="1.6" height="1.6" fill="#111"/>
<rect x="461.5" y="717.3" width="1.6" height="1.6" fill="#111"/>
<rect x="463" y="719.9" width="1.6" height="1.6" fill="#111"/>
<rect x="461" y="720.4" width="1.6" height="1.6" fill="#111"/>
<rect x="462.5" y="723" width="1.6" height="1.6" fill="#111"/>
<rect x="460" y="725.5" width="1.6" height="1.6" fill="#111"/>
<rect x="463.5" y="725.5" width="1.6" height="1.6" fill="#111"/>
<rect x="462" y="727" width="1.6" height="1.6" fill="#111"/>
<rect x="461" y="731.6" width="1.6" height="1.6" fill="#111"/>
<rect x="463.5" y="732.7" width="1.6" height="1.6" fill="#111"/>
<rect x="462" y="734.7" width="1.6" height="1.6" fill="#111"/>
<rect x="460.5" y="736.2" width="1.6" height="1.6" fill="#111"/>
<rect x="464" y="736.2" width="1.6" height="1.6" fill="#111"/>
<line x1="445.9" y1="648.3" x2="464.3" y2="648.3" stroke="#b4b4b4" stroke-width="1.1"/>
<circle cx="451.8" cy="644.3" r="1.0" fill="#4a4a4a"/>
<circle cx="455.1" cy="644.3" r="1.0" fill="#4a4a4a"/>
<circle cx="458.4" cy="644.3" r="1.0" fill="#4a4a4a"/>
<text x="419.3" y="748.4" font-size="8.5" text-anchor="middle" fill="#151515" color="#151515">Short</text>
<text x="419.3" y="757.8" font-size="8.5" text-anchor="middle" fill="#151515" color="#151515">bouts</text>
<text x="456.1" y="748.4" font-size="8.5" text-anchor="middle" fill="#151515" color="#151515">Long</text>
<text x="456.1" y="757.8" font-size="8.5" text-anchor="middle" fill="#151515" color="#151515">bouts</text>
<line x1="545.7" y1="662.5" x2="545.7" y2="738.6" stroke="#5e5e5e" stroke-width="1.6"/>
<line x1="544.9" y1="738.1" x2="625.3" y2="738.1" stroke="#1a1a1a" stroke-width="1.1"/>
<line x1="543.1" y1="662.5" x2="545.7" y2="662.5" stroke="#4a4a4a" stroke-width="1.1"/>
<text x="542.1" y="665.9" font-size="8.2" text-anchor="end" fill="#151515" color="#151515">175</text>
<text x="525.9" y="700.8" font-size="7.2" text-anchor="middle" fill="#151515" color="#151515" transform="rotate(-90 525.9 700.8)">Pooled time (Sec)</text>
<text x="519.5" y="644.6" font-size="16.6" text-anchor="start" fill="#000" color="#000">P</text>
<rect x="555.9" y="716.7" width="11.7" height="21.4" fill="#2b77b9"/>
<path d="M561.75 718.7V714.7M559.35 714.7H564.15" stroke="#2b77b9" stroke-width="1.1" fill="none"/>
<rect x="570.9" y="718.9" width="12" height="19.2" fill="#43b520"/>
<path d="M576.9 720.9V716.9M574.5 716.9H579.3" stroke="#43b520" stroke-width="1.1" fill="none"/>
<rect x="590.1" y="718.9" width="11.8" height="19.2" fill="#2b77b9"/>
<path d="M596 720.9V716.4M593.6 716.4H598.4" stroke="#2b77b9" stroke-width="1.1" fill="none"/>
<rect x="605.7" y="725.1" width="11.7" height="13" fill="#43b520"/>
<path d="M611.55 727.1V723M609.15 723H613.95" stroke="#43b520" stroke-width="1.1" fill="none"/>
<rect x="560.2" y="701.6" width="1.6" height="1.6" fill="#111"/>
<rect x="561" y="706.7" width="1.6" height="1.6" fill="#111"/>
<rect x="558.9" y="708.4" width="1.6" height="1.6" fill="#111"/>
<rect x="561.5" y="709.5" width="1.6" height="1.6" fill="#111"/>
<rect x="559.4" y="712.5" width="1.6" height="1.6" fill="#111"/>
<rect x="562" y="712.2" width="1.6" height="1.6" fill="#111"/>
<rect x="558.4" y="714.6" width="1.6" height="1.6" fill="#111"/>
<rect x="561" y="714.6" width="1.6" height="1.6" fill="#111"/>
<rect x="562.5" y="713" width="1.6" height="1.6" fill="#111"/>
<rect x="559.4" y="718.1" width="1.6" height="1.6" fill="#111"/>
<rect x="562" y="718.1" width="1.6" height="1.6" fill="#111"/>
<rect x="558.9" y="720.2" width="1.6" height="1.6" fill="#111"/>
<rect x="561" y="720.7" width="1.6" height="1.6" fill="#111"/>
<rect x="562.5" y="719.7" width="1.6" height="1.6" fill="#111"/>
<rect x="558.4" y="722.2" width="1.6" height="1.6" fill="#111"/>
<rect x="560.4" y="722.7" width="1.6" height="1.6" fill="#111"/>
<rect x="562" y="723.2" width="1.6" height="1.6" fill="#111"/>
<rect x="559.4" y="727.3" width="1.6" height="1.6" fill="#111"/>
<rect x="559.9" y="734" width="1.6" height="1.6" fill="#111"/>
<rect x="578.6" y="707.4" width="1.6" height="1.6" fill="#111"/>
<rect x="575.6" y="708.7" width="1.6" height="1.6" fill="#111"/>
<rect x="576.8" y="710.5" width="1.6" height="1.6" fill="#111"/>
<rect x="575.3" y="712.5" width="1.6" height="1.6" fill="#111"/>
<rect x="576.3" y="713.8" width="1.6" height="1.6" fill="#111"/>
<rect x="573.7" y="715.6" width="1.6" height="1.6" fill="#111"/>
<rect x="576" y="715.6" width="1.6" height="1.6" fill="#111"/>
<rect x="577.8" y="715.6" width="1.6" height="1.6" fill="#111"/>
<rect x="574.2" y="717.1" width="1.6" height="1.6" fill="#111"/>
<rect x="576.3" y="717.6" width="1.6" height="1.6" fill="#111"/>
<rect x="578.3" y="716.9" width="1.6" height="1.6" fill="#111"/>
<rect x="573.7" y="719.7" width="1.6" height="1.6" fill="#111"/>
<rect x="576.3" y="720.2" width="1.6" height="1.6" fill="#111"/>
<rect x="578.3" y="719.2" width="1.6" height="1.6" fill="#111"/>
<rect x="574.7" y="722.2" width="1.6" height="1.6" fill="#111"/>
<rect x="576.8" y="722.2" width="1.6" height="1.6" fill="#111"/>
<rect x="574.2" y="724.3" width="1.6" height="1.6" fill="#111"/>
<rect x="575.8" y="725.3" width="1.6" height="1.6" fill="#111"/>
<rect x="574.7" y="731.4" width="1.6" height="1.6" fill="#111"/>
<rect x="575.8" y="736" width="1.6" height="1.6" fill="#111"/>
<rect x="598" y="686" width="1.6" height="1.6" fill="#111"/>
<rect x="594.2" y="698.7" width="1.6" height="1.6" fill="#111"/>
<rect x="595.7" y="703" width="1.6" height="1.6" fill="#111"/>
<rect x="594.7" y="707.4" width="1.6" height="1.6" fill="#111"/>
<rect x="594.2" y="710.5" width="1.6" height="1.6" fill="#111"/>
<rect x="596.7" y="710.5" width="1.6" height="1.6" fill="#111"/>
<rect x="595.2" y="713" width="1.6" height="1.6" fill="#111"/>
<rect x="593.1" y="716.1" width="1.6" height="1.6" fill="#111"/>
<rect x="596.2" y="716.1" width="1.6" height="1.6" fill="#111"/>
<rect x="594.2" y="720.2" width="1.6" height="1.6" fill="#111"/>
<rect x="596.7" y="720.7" width="1.6" height="1.6" fill="#111"/>
<rect x="593.1" y="722.2" width="1.6" height="1.6" fill="#111"/>
<rect x="595.2" y="724.3" width="1.6" height="1.6" fill="#111"/>
<rect x="597.2" y="723.8" width="1.6" height="1.6" fill="#111"/>
<rect x="593.7" y="726.3" width="1.6" height="1.6" fill="#111"/>
<rect x="596.2" y="726.8" width="1.6" height="1.6" fill="#111"/>
<rect x="597.7" y="727.3" width="1.6" height="1.6" fill="#111"/>
<rect x="593.1" y="729.9" width="1.6" height="1.6" fill="#111"/>
<rect x="595.7" y="729.9" width="1.6" height="1.6" fill="#111"/>
<rect x="597.7" y="730.2" width="1.6" height="1.6" fill="#111"/>
<rect x="595.2" y="736" width="1.6" height="1.6" fill="#111"/>
<rect x="613.1" y="702" width="1.6" height="1.6" fill="#111"/>
<rect x="610.3" y="705.1" width="1.6" height="1.6" fill="#111"/>
<rect x="609.5" y="711.5" width="1.6" height="1.6" fill="#111"/>
<rect x="608.3" y="716.1" width="1.6" height="1.6" fill="#111"/>
<rect x="611" y="716.6" width="1.6" height="1.6" fill="#111"/>
<rect x="610.5" y="719" width="1.6" height="1.6" fill="#111"/>
<rect x="609.5" y="721.2" width="1.6" height="1.6" fill="#111"/>
<rect x="608.5" y="723.2" width="1.6" height="1.6" fill="#111"/>
<rect x="611" y="722.7" width="1.6" height="1.6" fill="#111"/>
<rect x="608" y="725.3" width="1.6" height="1.6" fill="#111"/>
<rect x="610.5" y="725.3" width="1.6" height="1.6" fill="#111"/>
<rect x="612.6" y="725.8" width="1.6" height="1.6" fill="#111"/>
<rect x="609.5" y="727.3" width="1.6" height="1.6" fill="#111"/>
<rect x="611" y="727.8" width="1.6" height="1.6" fill="#111"/>
<rect x="608.5" y="729.4" width="1.6" height="1.6" fill="#111"/>
<rect x="612" y="729.9" width="1.6" height="1.6" fill="#111"/>
<rect x="610" y="731.4" width="1.6" height="1.6" fill="#111"/>
<rect x="608" y="733.5" width="1.6" height="1.6" fill="#111"/>
<rect x="610.5" y="734" width="1.6" height="1.6" fill="#111"/>
<rect x="612.6" y="734" width="1.6" height="1.6" fill="#111"/>
<rect x="609.5" y="735.5" width="1.6" height="1.6" fill="#111"/>
<rect x="611.5" y="736" width="1.6" height="1.6" fill="#111"/>
<line x1="561" y1="663.3" x2="576.7" y2="663.3" stroke="#b4b4b4" stroke-width="1.1"/>
<circle cx="568.85" cy="659.3" r="1.0" fill="#4a4a4a"/>
<line x1="597" y1="663.3" x2="612.7" y2="663.3" stroke="#b4b4b4" stroke-width="1.1"/>
<circle cx="603.2" cy="659.3" r="1.0" fill="#4a4a4a"/>
<circle cx="606.5" cy="659.3" r="1.0" fill="#4a4a4a"/>
<text x="568" y="748.4" font-size="8.5" text-anchor="middle" fill="#151515" color="#151515">Short</text>
<text x="568" y="757.8" font-size="8.5" text-anchor="middle" fill="#151515" color="#151515">bouts</text>
<text x="604.8" y="748.4" font-size="8.5" text-anchor="middle" fill="#151515" color="#151515">Long</text>
<text x="604.8" y="757.8" font-size="8.5" text-anchor="middle" fill="#151515" color="#151515">bouts</text>
<line x1="99.3" y1="818.3" x2="99.3" y2="894.2" stroke="#5e5e5e" stroke-width="1.6"/>
<line x1="98.5" y1="893.7" x2="179.5" y2="893.7" stroke="#1a1a1a" stroke-width="1.1"/>
<line x1="96.7" y1="818.3" x2="99.3" y2="818.3" stroke="#4a4a4a" stroke-width="1.1"/>
<text x="95.7" y="821.7" font-size="8.2" text-anchor="end" fill="#151515" color="#151515">175</text>
<text x="79.5" y="856.5" font-size="7.2" text-anchor="middle" fill="#151515" color="#151515" transform="rotate(-90 79.5 856.5)">Pooled time (Sec)</text>
<rect x="109.9" y="873.2" width="11.4" height="20.5" fill="#2e4a9c"/>
<path d="M115.6 875.2V871.4M113.2 871.4H118" stroke="#2e4a9c" stroke-width="1.1" fill="none"/>
<rect x="124.9" y="876" width="11.6" height="17.7" fill="#86d7e2"/>
<path d="M130.7 878V874.3M128.3 874.3H133.1" stroke="#86d7e2" stroke-width="1.1" fill="none"/>
<rect x="144.1" y="873.1" width="11.8" height="20.6" fill="#2e4a9c"/>
<path d="M150 875.1V869.3M147.6 869.3H152.4" stroke="#2e4a9c" stroke-width="1.1" fill="none"/>
<rect x="159.5" y="879" width="11.7" height="14.7" fill="#86d7e2"/>
<path d="M165.35 881V876.5M162.95 876.5H167.75" stroke="#86d7e2" stroke-width="1.1" fill="none"/>
<rect x="112.9" y="857.6" width="1.6" height="1.6" fill="#111"/>
<rect x="117.5" y="857.3" width="1.6" height="1.6" fill="#111"/>
<rect x="113.9" y="861.1" width="1.6" height="1.6" fill="#111"/>
<rect x="114.4" y="867.2" width="1.6" height="1.6" fill="#111"/>
<rect x="112.4" y="868.8" width="1.6" height="1.6" fill="#111"/>
<rect x="116.5" y="869.1" width="1.6" height="1.6" fill="#111"/>
<rect x="112.9" y="872.6" width="1.6" height="1.6" fill="#111"/>
<rect x="115.4" y="872.1" width="1.6" height="1.6" fill="#111"/>
<rect x="117" y="872.6" width="1.6" height="1.6" fill="#111"/>
<rect x="112.4" y="874.7" width="1.6" height="1.6" fill="#111"/>
<rect x="114.4" y="875.2" width="1.6" height="1.6" fill="#111"/>
<rect x="117" y="874.2" width="1.6" height="1.6" fill="#111"/>
<rect x="113.4" y="877" width="1.6" height="1.6" fill="#111"/>
<rect x="116" y="876.7" width="1.6" height="1.6" fill="#111"/>
<rect x="113.9" y="882.3" width="1.6" height="1.6" fill="#111"/>
<rect x="114.9" y="891" width="1.6" height="1.6" fill="#111"/>
<rect x="132.3" y="861.9" width="1.6" height="1.6" fill="#111"/>
<rect x="130.3" y="865" width="1.6" height="1.6" fill="#111"/>
<rect x="128.2" y="867" width="1.6" height="1.6" fill="#111"/>
<rect x="131.3" y="867.5" width="1.6" height="1.6" fill="#111"/>
<rect x="127.2" y="868.2" width="1.6" height="1.6" fill="#111"/>
<rect x="128.2" y="872.1" width="1.6" height="1.6" fill="#111"/>
<rect x="130.8" y="873.1" width="1.6" height="1.6" fill="#111"/>
<rect x="127.2" y="874" width="1.6" height="1.6" fill="#111"/>
<rect x="132.3" y="873.7" width="1.6" height="1.6" fill="#111"/>
<rect x="129.2" y="875.2" width="1.6" height="1.6" fill="#111"/>
<rect x="128.2" y="877.2" width="1.6" height="1.6" fill="#111"/>
<rect x="129.7" y="878.3" width="1.6" height="1.6" fill="#111"/>
<rect x="128.7" y="880.3" width="1.6" height="1.6" fill="#111"/>
<rect x="130.8" y="880.8" width="1.6" height="1.6" fill="#111"/>
<rect x="128.2" y="882.8" width="1.6" height="1.6" fill="#111"/>
<rect x="129.7" y="884.4" width="1.6" height="1.6" fill="#111"/>
<rect x="130.8" y="888.5" width="1.6" height="1.6" fill="#111"/>
<rect x="152.4" y="848.4" width="1.6" height="1.6" fill="#111"/>
<rect x="148.7" y="856.3" width="1.6" height="1.6" fill="#111"/>
<rect x="150.2" y="859.3" width="1.6" height="1.6" fill="#111"/>
<rect x="147.1" y="860.4" width="1.6" height="1.6" fill="#111"/>
<rect x="152.2" y="860.4" width="1.6" height="1.6" fill="#111"/>
<rect x="150.7" y="865.5" width="1.6" height="1.6" fill="#111"/>
<rect x="149.2" y="868.5" width="1.6" height="1.6" fill="#111"/>
<rect x="148.1" y="871.1" width="1.6" height="1.6" fill="#111"/>
<rect x="151.2" y="871.1" width="1.6" height="1.6" fill="#111"/>
<rect x="148.7" y="874.7" width="1.6" height="1.6" fill="#111"/>
<rect x="150.7" y="877.7" width="1.6" height="1.6" fill="#111"/>
<rect x="147.6" y="881.8" width="1.6" height="1.6" fill="#111"/>
<rect x="151.2" y="881.1" width="1.6" height="1.6" fill="#111"/>
<rect x="149.7" y="886.9" width="1.6" height="1.6" fill="#111"/>
<rect x="151.2" y="888" width="1.6" height="1.6" fill="#111"/>
<rect x="149.2" y="890" width="1.6" height="1.6" fill="#111"/>
<rect x="147.6" y="893.1" width="1.6" height="1.6" fill="#111"/>
<rect x="150.2" y="893.4" width="1.6" height="1.6" fill="#111"/>
<rect x="166.7" y="854.7" width="1.6" height="1.6" fill="#111"/>
<rect x="164.3" y="860.1" width="1.6" height="1.6" fill="#111"/>
<rect x="163" y="865" width="1.6" height="1.6" fill="#111"/>
<rect x="163.5" y="868" width="1.6" height="1.6" fill="#111"/>
<rect x="164.7" y="871.3" width="1.6" height="1.6" fill="#111"/>
<rect x="164.5" y="878.8" width="1.6" height="1.6" fill="#111"/>
<rect x="163.5" y="880.3" width="1.6" height="1.6" fill="#111"/>
<rect x="165.5" y="881.3" width="1.6" height="1.6" fill="#111"/>
<rect x="162.4" y="882.3" width="1.6" height="1.6" fill="#111"/>
<rect x="165" y="883.4" width="1.6" height="1.6" fill="#111"/>
<rect x="163" y="884.9" width="1.6" height="1.6" fill="#111"/>
<rect x="166" y="884.9" width="1.6" height="1.6" fill="#111"/>
<rect x="164.5" y="886.4" width="1.6" height="1.6" fill="#111"/>
<rect x="165.5" y="888" width="1.6" height="1.6" fill="#111"/>
<line x1="151" y1="827.5" x2="163.9" y2="827.5" stroke="#b4b4b4" stroke-width="1.1"/>
<text x="157.45" y="826.5" font-size="5.5" text-anchor="middle" fill="#555" color="#555">#</text>
<text x="121.9" y="904" font-size="8.5" text-anchor="middle" fill="#151515" color="#151515">Short</text>
<text x="121.9" y="913.4" font-size="8.5" text-anchor="middle" fill="#151515" color="#151515">bouts</text>
<text x="158.8" y="904" font-size="8.5" text-anchor="middle" fill="#151515" color="#151515">Long</text>
<text x="158.8" y="913.4" font-size="8.5" text-anchor="middle" fill="#151515" color="#151515">bouts</text>
<line x1="248.8" y1="818.3" x2="248.8" y2="893.7" stroke="#5e5e5e" stroke-width="1.6"/>
<line x1="248" y1="893.2" x2="327.7" y2="893.2" stroke="#1a1a1a" stroke-width="1.1"/>
<line x1="246.2" y1="818.3" x2="248.8" y2="818.3" stroke="#4a4a4a" stroke-width="1.1"/>
<text x="245.2" y="821.7" font-size="8.2" text-anchor="end" fill="#151515" color="#151515">175</text>
<text x="229" y="856.25" font-size="7.2" text-anchor="middle" fill="#151515" color="#151515" transform="rotate(-90 229 856.25)">Pooled time (Sec)</text>
<rect x="256.3" y="871.9" width="11.8" height="21.3" fill="#e13726"/>
<path d="M262.2 873.9V869.3M259.8 869.3H264.6" stroke="#e13726" stroke-width="1.1" fill="none"/>
<rect x="272.2" y="876.2" width="11.8" height="17" fill="#3150a4"/>
<path d="M278.1 878.2V875M275.7 875H280.5" stroke="#3150a4" stroke-width="1.1" fill="none"/>
<rect x="293.7" y="868" width="11.6" height="25.2" fill="#e13726"/>
<path d="M299.5 870V864.7M297.1 864.7H301.9" stroke="#e13726" stroke-width="1.1" fill="none"/>
<rect x="309.2" y="878.2" width="11.8" height="15" fill="#3150a4"/>
<path d="M315.1 880.2V875.2M312.7 875.2H317.5" stroke="#3150a4" stroke-width="1.1" fill="none"/>
<rect x="264.3" y="847.6" width="1.6" height="1.6" fill="#111"/>
<rect x="261.2" y="861.1" width="1.6" height="1.6" fill="#111"/>
<rect x="259.9" y="863.9" width="1.6" height="1.6" fill="#111"/>
<rect x="263.5" y="863.7" width="1.6" height="1.6" fill="#111"/>
<rect x="261.4" y="865.5" width="1.6" height="1.6" fill="#111"/>
<rect x="260.9" y="868" width="1.6" height="1.6" fill="#111"/>
<rect x="263" y="869.1" width="1.6" height="1.6" fill="#111"/>
<rect x="262.4" y="870.6" width="1.6" height="1.6" fill="#111"/>
<rect x="262.4" y="876.2" width="1.6" height="1.6" fill="#111"/>
<rect x="261.4" y="877.7" width="1.6" height="1.6" fill="#111"/>
<rect x="260.4" y="880.1" width="1.6" height="1.6" fill="#111"/>
<rect x="263.5" y="879.8" width="1.6" height="1.6" fill="#111"/>
<rect x="261.9" y="881.8" width="1.6" height="1.6" fill="#111"/>
<rect x="263" y="882.8" width="1.6" height="1.6" fill="#111"/>
<rect x="262.4" y="884.9" width="1.6" height="1.6" fill="#111"/>
<rect x="280.3" y="867.5" width="1.6" height="1.6" fill="#111"/>
<rect x="278" y="869.1" width="1.6" height="1.6" fill="#111"/>
<rect x="275.5" y="870.1" width="1.6" height="1.6" fill="#111"/>
<rect x="278.8" y="871.1" width="1.6" height="1.6" fill="#111"/>
<rect x="277.3" y="871.9" width="1.6" height="1.6" fill="#111"/>
<rect x="275.7" y="876.2" width="1.6" height="1.6" fill="#111"/>
<rect x="278.3" y="876.2" width="1.6" height="1.6" fill="#111"/>
<rect x="276.7" y="877.7" width="1.6" height="1.6" fill="#111"/>
<rect x="278.8" y="878.2" width="1.6" height="1.6" fill="#111"/>
<rect x="276.2" y="879.8" width="1.6" height="1.6" fill="#111"/>
<rect x="277.8" y="879.8" width="1.6" height="1.6" fill="#111"/>
<rect x="279.3" y="880.8" width="1.6" height="1.6" fill="#111"/>
<rect x="276.7" y="881.8" width="1.6" height="1.6" fill="#111"/>
<rect x="278.3" y="882.3" width="1.6" height="1.6" fill="#111"/>
<rect x="277.8" y="885.4" width="1.6" height="1.6" fill="#111"/>
<rect x="300.8" y="836.6" width="1.6" height="1.6" fill="#111"/>
<rect x="299" y="838.4" width="1.6" height="1.6" fill="#111"/>
<rect x="298.2" y="849.4" width="1.6" height="1.6" fill="#111"/>
<rect x="298.7" y="857.3" width="1.6" height="1.6" fill="#111"/>
<rect x="297.7" y="859.9" width="1.6" height="1.6" fill="#111"/>
<rect x="297.4" y="867.5" width="1.6" height="1.6" fill="#111"/>
<rect x="296.7" y="871.1" width="1.6" height="1.6" fill="#111"/>
<rect x="299.2" y="871.3" width="1.6" height="1.6" fill="#111"/>
<rect x="296.2" y="874.2" width="1.6" height="1.6" fill="#111"/>
<rect x="298.2" y="874.7" width="1.6" height="1.6" fill="#111"/>
<rect x="299.7" y="876.2" width="1.6" height="1.6" fill="#111"/>
<rect x="297.7" y="879.3" width="1.6" height="1.6" fill="#111"/>
<rect x="299.2" y="888.5" width="1.6" height="1.6" fill="#111"/>
<rect x="316.4" y="836.3" width="1.6" height="1.6" fill="#111"/>
<rect x="312.5" y="864.5" width="1.6" height="1.6" fill="#111"/>
<rect x="315.6" y="864.5" width="1.6" height="1.6" fill="#111"/>
<rect x="314.6" y="870.6" width="1.6" height="1.6" fill="#111"/>
<rect x="313.7" y="872.1" width="1.6" height="1.6" fill="#111"/>
<rect x="312.5" y="874.2" width="1.6" height="1.6" fill="#111"/>
<rect x="315.1" y="875.7" width="1.6" height="1.6" fill="#111"/>
<rect x="314" y="877.2" width="1.6" height="1.6" fill="#111"/>
<rect x="312.5" y="879.1" width="1.6" height="1.6" fill="#111"/>
<rect x="314.6" y="879.3" width="1.6" height="1.6" fill="#111"/>
<rect x="313.5" y="881.3" width="1.6" height="1.6" fill="#111"/>
<rect x="315.1" y="882.3" width="1.6" height="1.6" fill="#111"/>
<rect x="314" y="884.9" width="1.6" height="1.6" fill="#111"/>
<rect x="312.5" y="886.9" width="1.6" height="1.6" fill="#111"/>
<rect x="315.6" y="887.4" width="1.6" height="1.6" fill="#111"/>
<rect x="313.5" y="888.5" width="1.6" height="1.6" fill="#111"/>
<rect x="314.6" y="889.5" width="1.6" height="1.6" fill="#111"/>
<rect x="313" y="891.5" width="1.6" height="1.6" fill="#111"/>
<rect x="315.6" y="891.7" width="1.6" height="1.6" fill="#111"/>
<line x1="300.9" y1="825.4" x2="316.6" y2="825.4" stroke="#b4b4b4" stroke-width="1.1"/>
<circle cx="308.75" cy="821.4" r="1.0" fill="#4a4a4a"/>
<text x="270.6" y="903.5" font-size="8.5" text-anchor="middle" fill="#151515" color="#151515">Short</text>
<text x="270.6" y="912.9" font-size="8.5" text-anchor="middle" fill="#151515" color="#151515">bouts</text>
<text x="307.4" y="903.5" font-size="8.5" text-anchor="middle" fill="#151515" color="#151515">Long</text>
<text x="307.4" y="912.9" font-size="8.5" text-anchor="middle" fill="#151515" color="#151515">bouts</text>
<line x1="396.5" y1="818.8" x2="396.5" y2="895" stroke="#5e5e5e" stroke-width="1.6"/>
<line x1="395.7" y1="894.5" x2="476.6" y2="894.5" stroke="#1a1a1a" stroke-width="1.1"/>
<line x1="393.9" y1="818.8" x2="396.5" y2="818.8" stroke="#4a4a4a" stroke-width="1.1"/>
<text x="392.9" y="822.2" font-size="8.2" text-anchor="end" fill="#151515" color="#151515">175</text>
<text x="376.7" y="857.15" font-size="7.2" text-anchor="middle" fill="#151515" color="#151515" transform="rotate(-90 376.7 857.15)">Pooled time (Sec)</text>
<rect x="405.3" y="872.9" width="11.7" height="21.6" fill="#e13726"/>
<path d="M411.15 874.9V870.9M408.75 870.9H413.55" stroke="#e13726" stroke-width="1.1" fill="none"/>
<rect x="421" y="874.9" width="11.8" height="19.6" fill="#72bf1a"/>
<path d="M426.9 876.9V872.9M424.5 872.9H429.3" stroke="#72bf1a" stroke-width="1.1" fill="none"/>
<rect x="442.4" y="874.9" width="11.6" height="19.6" fill="#e13726"/>
<path d="M448.2 876.9V872.5M445.8 872.5H450.6" stroke="#e13726" stroke-width="1.1" fill="none"/>
<rect x="458" y="873.2" width="11.7" height="21.3" fill="#72bf1a"/>
<path d="M463.85 875.2V871M461.45 871H466.25" stroke="#72bf1a" stroke-width="1.1" fill="none"/>
<rect x="409.6" y="861" width="1.6" height="1.6" fill="#111"/>
<rect x="411.8" y="861.8" width="1.6" height="1.6" fill="#111"/>
<rect x="408.5" y="863.7" width="1.6" height="1.6" fill="#111"/>
<rect x="410.7" y="864.2" width="1.6" height="1.6" fill="#111"/>
<rect x="409.1" y="867" width="1.6" height="1.6" fill="#111"/>
<rect x="411.8" y="867.5" width="1.6" height="1.6" fill="#111"/>
<rect x="408" y="869.2" width="1.6" height="1.6" fill="#111"/>
<rect x="410.1" y="868.8" width="1.6" height="1.6" fill="#111"/>
<rect x="412.3" y="869.9" width="1.6" height="1.6" fill="#111"/>
<rect x="409.1" y="871.4" width="1.6" height="1.6" fill="#111"/>
<rect x="411.2" y="871.9" width="1.6" height="1.6" fill="#111"/>
<rect x="408" y="873.5" width="1.6" height="1.6" fill="#111"/>
<rect x="410.1" y="873.5" width="1.6" height="1.6" fill="#111"/>
<rect x="412.3" y="874.1" width="1.6" height="1.6" fill="#111"/>
<rect x="409.1" y="875.7" width="1.6" height="1.6" fill="#111"/>
<rect x="411.2" y="876.3" width="1.6" height="1.6" fill="#111"/>
<rect x="408.5" y="877.9" width="1.6" height="1.6" fill="#111"/>
<rect x="410.7" y="878.5" width="1.6" height="1.6" fill="#111"/>
<rect x="412.3" y="879" width="1.6" height="1.6" fill="#111"/>
<rect x="409.6" y="880.7" width="1.6" height="1.6" fill="#111"/>
<rect x="411.8" y="880.7" width="1.6" height="1.6" fill="#111"/>
<rect x="408.5" y="882.9" width="1.6" height="1.6" fill="#111"/>
<rect x="410.7" y="883.4" width="1.6" height="1.6" fill="#111"/>
<rect x="410.1" y="885.6" width="1.6" height="1.6" fill="#111"/>
<rect x="411.2" y="886.1" width="1.6" height="1.6" fill="#111"/>
<rect x="425.7" y="862.6" width="1.6" height="1.6" fill="#111"/>
<rect x="428.2" y="864.5" width="1.6" height="1.6" fill="#111"/>
<rect x="426" y="865.3" width="1.6" height="1.6" fill="#111"/>
<rect x="424.4" y="867.5" width="1.6" height="1.6" fill="#111"/>
<rect x="427.1" y="867.7" width="1.6" height="1.6" fill="#111"/>
<rect x="423.3" y="869.7" width="1.6" height="1.6" fill="#111"/>
<rect x="426" y="869.9" width="1.6" height="1.6" fill="#111"/>
<rect x="428.2" y="870.6" width="1.6" height="1.6" fill="#111"/>
<rect x="423.8" y="872.4" width="1.6" height="1.6" fill="#111"/>
<rect x="426.6" y="872.4" width="1.6" height="1.6" fill="#111"/>
<rect x="428.8" y="873" width="1.6" height="1.6" fill="#111"/>
<rect x="423.8" y="875.2" width="1.6" height="1.6" fill="#111"/>
<rect x="426" y="875.2" width="1.6" height="1.6" fill="#111"/>
<rect x="428.2" y="875.7" width="1.6" height="1.6" fill="#111"/>
<rect x="424.9" y="877.4" width="1.6" height="1.6" fill="#111"/>
<rect x="427.1" y="877.9" width="1.6" height="1.6" fill="#111"/>
<rect x="423.8" y="879.6" width="1.6" height="1.6" fill="#111"/>
<rect x="426.6" y="880.1" width="1.6" height="1.6" fill="#111"/>
<rect x="425.5" y="882.3" width="1.6" height="1.6" fill="#111"/>
<rect x="427.7" y="882.9" width="1.6" height="1.6" fill="#111"/>
<rect x="424.9" y="884.5" width="1.6" height="1.6" fill="#111"/>
<rect x="426" y="887.2" width="1.6" height="1.6" fill="#111"/>
<rect x="448.5" y="847.3" width="1.6" height="1.6" fill="#111"/>
<rect x="447.4" y="850.6" width="1.6" height="1.6" fill="#111"/>
<rect x="446.8" y="856" width="1.6" height="1.6" fill="#111"/>
<rect x="449" y="856" width="1.6" height="1.6" fill="#111"/>
<rect x="447.4" y="858.2" width="1.6" height="1.6" fill="#111"/>
<rect x="446.3" y="861" width="1.6" height="1.6" fill="#111"/>
<rect x="450.1" y="861" width="1.6" height="1.6" fill="#111"/>
<rect x="447.9" y="863.7" width="1.6" height="1.6" fill="#111"/>
<rect x="449.6" y="865.9" width="1.6" height="1.6" fill="#111"/>
<rect x="446.3" y="866.4" width="1.6" height="1.6" fill="#111"/>
<rect x="445.2" y="871" width="1.6" height="1.6" fill="#111"/>
<rect x="447.9" y="871.4" width="1.6" height="1.6" fill="#111"/>
<rect x="450.7" y="871.4" width="1.6" height="1.6" fill="#111"/>
<rect x="446.3" y="875.2" width="1.6" height="1.6" fill="#111"/>
<rect x="449" y="874.1" width="1.6" height="1.6" fill="#111"/>
<rect x="446.8" y="877.4" width="1.6" height="1.6" fill="#111"/>
<rect x="450.1" y="877.4" width="1.6" height="1.6" fill="#111"/>
<rect x="445.7" y="879.6" width="1.6" height="1.6" fill="#111"/>
<rect x="448.5" y="879.6" width="1.6" height="1.6" fill="#111"/>
<rect x="447.4" y="882.3" width="1.6" height="1.6" fill="#111"/>
<rect x="450.1" y="882.9" width="1.6" height="1.6" fill="#111"/>
<rect x="446.3" y="884.5" width="1.6" height="1.6" fill="#111"/>
<rect x="449" y="885" width="1.6" height="1.6" fill="#111"/>
<rect x="447.9" y="887.2" width="1.6" height="1.6" fill="#111"/>
<rect x="449.6" y="888.9" width="1.6" height="1.6" fill="#111"/>
<rect x="446.3" y="890.5" width="1.6" height="1.6" fill="#111"/>
<rect x="449" y="891.1" width="1.6" height="1.6" fill="#111"/>
<rect x="447.4" y="893.3" width="1.6" height="1.6" fill="#111"/>
<rect x="450.1" y="893.3" width="1.6" height="1.6" fill="#111"/>
<rect x="462.2" y="840.2" width="1.6" height="1.6" fill="#111"/>
<rect x="462.7" y="851.6" width="1.6" height="1.6" fill="#111"/>
<rect x="462.2" y="856" width="1.6" height="1.6" fill="#111"/>
<rect x="464.3" y="858.2" width="1.6" height="1.6" fill="#111"/>
<rect x="461.6" y="859.9" width="1.6" height="1.6" fill="#111"/>
<rect x="463.8" y="861.5" width="1.6" height="1.6" fill="#111"/>
<rect x="462.7" y="863.7" width="1.6" height="1.6" fill="#111"/>
<rect x="464.9" y="864.2" width="1.6" height="1.6" fill="#111"/>
<rect x="461.1" y="866.4" width="1.6" height="1.6" fill="#111"/>
<rect x="463.8" y="867" width="1.6" height="1.6" fill="#111"/>
<rect x="462.2" y="869.2" width="1.6" height="1.6" fill="#111"/>
<rect x="464.9" y="870.3" width="1.6" height="1.6" fill="#111"/>
<rect x="461.1" y="871.9" width="1.6" height="1.6" fill="#111"/>
<rect x="463.8" y="872.4" width="1.6" height="1.6" fill="#111"/>
<rect x="462.7" y="875.2" width="1.6" height="1.6" fill="#111"/>
<rect x="464.9" y="875.7" width="1.6" height="1.6" fill="#111"/>
<rect x="461.6" y="877.4" width="1.6" height="1.6" fill="#111"/>
<rect x="464.3" y="877.9" width="1.6" height="1.6" fill="#111"/>
<rect x="462.7" y="880.1" width="1.6" height="1.6" fill="#111"/>
<rect x="464.9" y="880.7" width="1.6" height="1.6" fill="#111"/>
<rect x="461.6" y="882.9" width="1.6" height="1.6" fill="#111"/>
<rect x="463.8" y="883.4" width="1.6" height="1.6" fill="#111"/>
<rect x="462.2" y="885.6" width="1.6" height="1.6" fill="#111"/>
<rect x="464.9" y="886.1" width="1.6" height="1.6" fill="#111"/>
<rect x="461.6" y="887.8" width="1.6" height="1.6" fill="#111"/>
<rect x="463.8" y="888.3" width="1.6" height="1.6" fill="#111"/>
<rect x="464.9" y="892.7" width="1.6" height="1.6" fill="#111"/>
<text x="419.3" y="904.8" font-size="8.5" text-anchor="middle" fill="#151515" color="#151515">Short</text>
<text x="419.3" y="914.2" font-size="8.5" text-anchor="middle" fill="#151515" color="#151515">bouts</text>
<text x="456.1" y="904.8" font-size="8.5" text-anchor="middle" fill="#151515" color="#151515">Long</text>
<text x="456.1" y="914.2" font-size="8.5" text-anchor="middle" fill="#151515" color="#151515">bouts</text>
<line x1="545.7" y1="818.8" x2="545.7" y2="895.5" stroke="#5e5e5e" stroke-width="1.6"/>
<line x1="544.9" y1="895" x2="625.9" y2="895" stroke="#1a1a1a" stroke-width="1.1"/>
<line x1="543.1" y1="818.8" x2="545.7" y2="818.8" stroke="#4a4a4a" stroke-width="1.1"/>
<text x="542.1" y="822.2" font-size="8.2" text-anchor="end" fill="#151515" color="#151515">175</text>
<text x="525.9" y="857.4" font-size="7.2" text-anchor="middle" fill="#151515" color="#151515" transform="rotate(-90 525.9 857.4)">Pooled time (Sec)</text>
<rect x="554.2" y="875.1" width="11.9" height="19.9" fill="#2b77b9"/>
<path d="M560.15 877.1V873.1M557.75 873.1H562.55" stroke="#2b77b9" stroke-width="1.1" fill="none"/>
<rect x="569.9" y="871.8" width="11.9" height="23.2" fill="#43b520"/>
<path d="M575.85 873.8V869.8M573.45 869.8H578.25" stroke="#43b520" stroke-width="1.1" fill="none"/>
<rect x="591.3" y="876" width="11.8" height="19" fill="#2b77b9"/>
<path d="M597.2 878V873.8M594.8 873.8H599.6" stroke="#2b77b9" stroke-width="1.1" fill="none"/>
<rect x="606.6" y="880.1" width="11.8" height="14.9" fill="#43b520"/>
<path d="M612.5 882.1V878M610.1 878H614.9" stroke="#43b520" stroke-width="1.1" fill="none"/>
<rect x="556.3" y="864.5" width="1.6" height="1.6" fill="#111"/>
<rect x="559.1" y="867" width="1.6" height="1.6" fill="#111"/>
<rect x="557.4" y="869.7" width="1.6" height="1.6" fill="#111"/>
<rect x="560.7" y="869.2" width="1.6" height="1.6" fill="#111"/>
<rect x="558.5" y="871.9" width="1.6" height="1.6" fill="#111"/>
<rect x="561.8" y="871.4" width="1.6" height="1.6" fill="#111"/>
<rect x="556.9" y="874.1" width="1.6" height="1.6" fill="#111"/>
<rect x="559.6" y="874.1" width="1.6" height="1.6" fill="#111"/>
<rect x="562.3" y="874.6" width="1.6" height="1.6" fill="#111"/>
<rect x="558" y="876.8" width="1.6" height="1.6" fill="#111"/>
<rect x="560.7" y="877.4" width="1.6" height="1.6" fill="#111"/>
<rect x="556.9" y="879.6" width="1.6" height="1.6" fill="#111"/>
<rect x="559.6" y="879.6" width="1.6" height="1.6" fill="#111"/>
<rect x="562.3" y="880.1" width="1.6" height="1.6" fill="#111"/>
<rect x="558" y="882.3" width="1.6" height="1.6" fill="#111"/>
<rect x="560.7" y="882.9" width="1.6" height="1.6" fill="#111"/>
<rect x="578.2" y="857.9" width="1.6" height="1.6" fill="#111"/>
<rect x="573.8" y="859.3" width="1.6" height="1.6" fill="#111"/>
<rect x="576" y="861" width="1.6" height="1.6" fill="#111"/>
<rect x="574.4" y="863.1" width="1.6" height="1.6" fill="#111"/>
<rect x="572.7" y="867" width="1.6" height="1.6" fill="#111"/>
<rect x="575.5" y="867" width="1.6" height="1.6" fill="#111"/>
<rect x="577.9" y="867.5" width="1.6" height="1.6" fill="#111"/>
<rect x="572.2" y="870.8" width="1.6" height="1.6" fill="#111"/>
<rect x="574.9" y="870.3" width="1.6" height="1.6" fill="#111"/>
<rect x="577.7" y="871.4" width="1.6" height="1.6" fill="#111"/>
<rect x="573.3" y="873.5" width="1.6" height="1.6" fill="#111"/>
<rect x="576.6" y="873.5" width="1.6" height="1.6" fill="#111"/>
<rect x="578.2" y="874.1" width="1.6" height="1.6" fill="#111"/>
<rect x="574.4" y="876.8" width="1.6" height="1.6" fill="#111"/>
<rect x="577.1" y="877.4" width="1.6" height="1.6" fill="#111"/>
<rect x="572.7" y="880.1" width="1.6" height="1.6" fill="#111"/>
<rect x="576" y="880.1" width="1.6" height="1.6" fill="#111"/>
<rect x="574.4" y="882.9" width="1.6" height="1.6" fill="#111"/>
<rect x="577.1" y="882.9" width="1.6" height="1.6" fill="#111"/>
<rect x="574.9" y="890.5" width="1.6" height="1.6" fill="#111"/>
<rect x="593.2" y="839.3" width="1.6" height="1.6" fill="#111"/>
<rect x="596.1" y="843.2" width="1.6" height="1.6" fill="#111"/>
<rect x="596.8" y="858.2" width="1.6" height="1.6" fill="#111"/>
<rect x="595.7" y="859.3" width="1.6" height="1.6" fill="#111"/>
<rect x="594.1" y="864.8" width="1.6" height="1.6" fill="#111"/>
<rect x="597.4" y="864.8" width="1.6" height="1.6" fill="#111"/>
<rect x="595.2" y="867" width="1.6" height="1.6" fill="#111"/>
<rect x="599" y="868.1" width="1.6" height="1.6" fill="#111"/>
<rect x="594.1" y="870.8" width="1.6" height="1.6" fill="#111"/>
<rect x="597.4" y="870.8" width="1.6" height="1.6" fill="#111"/>
<rect x="595.7" y="875.7" width="1.6" height="1.6" fill="#111"/>
<rect x="598.5" y="876.3" width="1.6" height="1.6" fill="#111"/>
<rect x="594.1" y="879" width="1.6" height="1.6" fill="#111"/>
<rect x="597.4" y="879.6" width="1.6" height="1.6" fill="#111"/>
<rect x="595.2" y="881.8" width="1.6" height="1.6" fill="#111"/>
<rect x="599" y="882.3" width="1.6" height="1.6" fill="#111"/>
<rect x="594.1" y="883.9" width="1.6" height="1.6" fill="#111"/>
<rect x="597.4" y="884.5" width="1.6" height="1.6" fill="#111"/>
<rect x="595.7" y="886.7" width="1.6" height="1.6" fill="#111"/>
<rect x="598.5" y="887.2" width="1.6" height="1.6" fill="#111"/>
<rect x="594.6" y="889.4" width="1.6" height="1.6" fill="#111"/>
<rect x="597.4" y="890" width="1.6" height="1.6" fill="#111"/>
<rect x="596.3" y="892.7" width="1.6" height="1.6" fill="#111"/>
<rect x="598.5" y="892.7" width="1.6" height="1.6" fill="#111"/>
<rect x="614.3" y="844.5" width="1.6" height="1.6" fill="#111"/>
<rect x="611.6" y="858.8" width="1.6" height="1.6" fill="#111"/>
<rect x="608.9" y="870.8" width="1.6" height="1.6" fill="#111"/>
<rect x="611.1" y="869.2" width="1.6" height="1.6" fill="#111"/>
<rect x="613.8" y="871.4" width="1.6" height="1.6" fill="#111"/>
<rect x="608.9" y="874.1" width="1.6" height="1.6" fill="#111"/>
<rect x="611.6" y="873.5" width="1.6" height="1.6" fill="#111"/>
<rect x="613.8" y="874.6" width="1.6" height="1.6" fill="#111"/>
<rect x="610" y="877.4" width="1.6" height="1.6" fill="#111"/>
<rect x="612.7" y="877.9" width="1.6" height="1.6" fill="#111"/>
<rect x="614.9" y="877.9" width="1.6" height="1.6" fill="#111"/>
<rect x="608.9" y="880.7" width="1.6" height="1.6" fill="#111"/>
<rect x="611.6" y="880.7" width="1.6" height="1.6" fill="#111"/>
<rect x="614.3" y="881.2" width="1.6" height="1.6" fill="#111"/>
<rect x="610" y="883.9" width="1.6" height="1.6" fill="#111"/>
<rect x="612.7" y="883.9" width="1.6" height="1.6" fill="#111"/>
<rect x="614.9" y="884.5" width="1.6" height="1.6" fill="#111"/>
<rect x="608.9" y="886.7" width="1.6" height="1.6" fill="#111"/>
<rect x="611.6" y="887.2" width="1.6" height="1.6" fill="#111"/>
<rect x="614.3" y="887.2" width="1.6" height="1.6" fill="#111"/>
<rect x="610" y="890" width="1.6" height="1.6" fill="#111"/>
<rect x="612.7" y="890" width="1.6" height="1.6" fill="#111"/>
<rect x="614.9" y="890.5" width="1.6" height="1.6" fill="#111"/>
<rect x="608.9" y="892.7" width="1.6" height="1.6" fill="#111"/>
<rect x="611.6" y="892.7" width="1.6" height="1.6" fill="#111"/>
<rect x="614.3" y="893.3" width="1.6" height="1.6" fill="#111"/>
<line x1="560.2" y1="829.3" x2="575.9" y2="829.3" stroke="#b4b4b4" stroke-width="1.1"/>
<circle cx="566.4" cy="825.3" r="1.0" fill="#4a4a4a"/>
<circle cx="569.7" cy="825.3" r="1.0" fill="#4a4a4a"/>
<text x="568" y="905.3" font-size="8.5" text-anchor="middle" fill="#151515" color="#151515">Short</text>
<text x="568" y="914.7" font-size="8.5" text-anchor="middle" fill="#151515" color="#151515">bouts</text>
<text x="604.8" y="905.3" font-size="8.5" text-anchor="middle" fill="#151515" color="#151515">Long</text>
<text x="604.8" y="914.7" font-size="8.5" text-anchor="middle" fill="#151515" color="#151515">bouts</text>
<rect x="118.2" y="774" width="16.9" height="3" fill="#2a46a0"/>
<rect x="118.2" y="784.9" width="16.9" height="3" fill="#80d3df"/>
<text x="139.5" y="777.8" font-size="8.2" text-anchor="start" fill="#151515" color="#151515">Social</text>
<text x="139.5" y="787.5" font-size="8.2" text-anchor="start" fill="#151515" color="#151515">Object</text>
<rect x="264.6" y="773.7" width="17.4" height="3" fill="#2b4fa9"/>
<rect x="264.6" y="784.7" width="17.4" height="3" fill="#e23a2a"/>
<text x="285.6" y="777.6" font-size="8.2" text-anchor="start" fill="#151515" color="#151515">Familiar</text>
<text x="285.6" y="788.6" font-size="8.2" text-anchor="start" fill="#151515" color="#151515">Novel</text>
<rect x="416.2" y="774.7" width="16.3" height="3" fill="#e23a2a"/>
<rect x="416.2" y="782.4" width="16.3" height="3" fill="#6dbe1e"/>
<text x="436.6" y="778.6" font-size="8.2" text-anchor="start" fill="#151515" color="#151515">Female</text>
<text x="436.6" y="786.6" font-size="8.2" text-anchor="start" fill="#151515" color="#151515">Male</text>
<rect x="560.2" y="773.7" width="16.3" height="3" fill="#2e76be"/>
<rect x="560.2" y="782.7" width="16.3" height="3" fill="#3fb51f"/>
<text x="580.4" y="777.6" font-size="8.2" text-anchor="start" fill="#151515" color="#151515">Isolated</text>
<text x="580.4" y="786.6" font-size="8.2" text-anchor="start" fill="#151515" color="#151515">Grouped</text>
</svg>
</body></html>
